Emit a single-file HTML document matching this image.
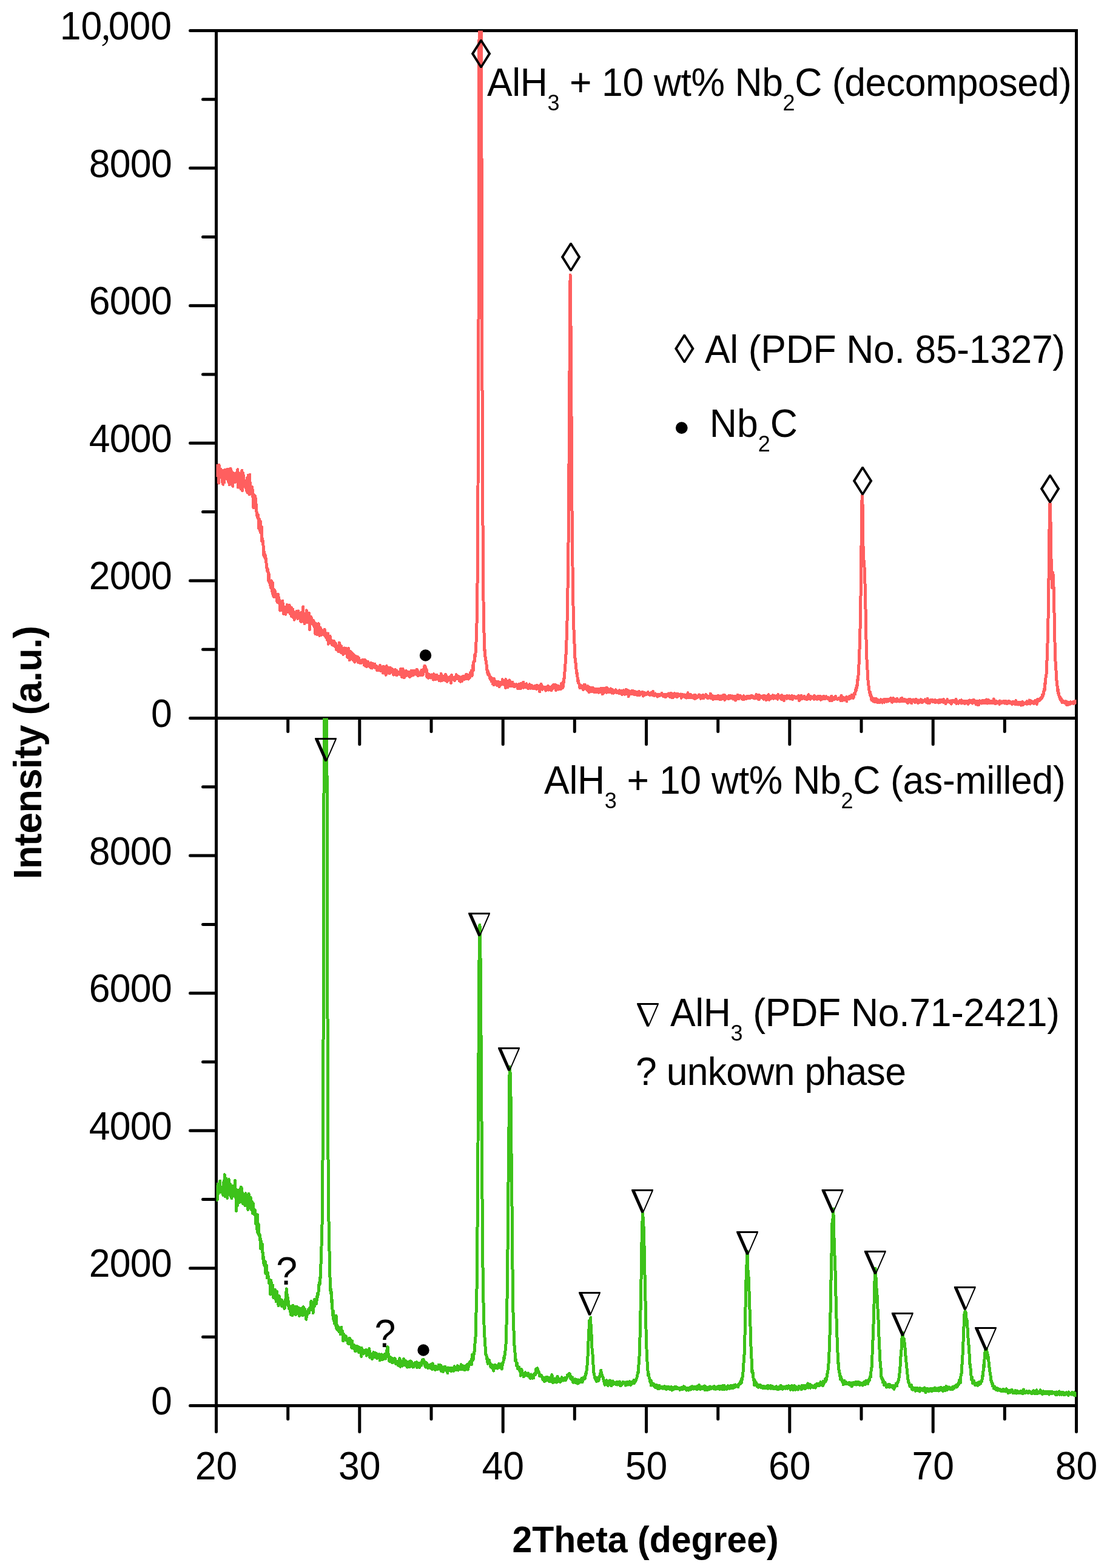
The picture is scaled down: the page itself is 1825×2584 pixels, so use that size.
<!DOCTYPE html>
<html><head><meta charset="utf-8"><title>XRD patterns</title>
<style>html,body{margin:0;padding:0;background:#fff;}svg{display:block;}</style>
</head><body>
<svg width="1825" height="2584" viewBox="0 0 1825 2584">
<defs>
<clipPath id="cT"><rect x="356.5" y="50.5" width="1418.0" height="1133.0"/></clipPath>
<clipPath id="cB"><rect x="356.5" y="1183.5" width="1418.0" height="1133.0"/></clipPath>
</defs>
<rect width="1825" height="2584" fill="#fff"/>
<rect x="356.5" y="50.5" width="1418.0" height="2266.0" fill="none" stroke="#000" stroke-width="5"/><line x1="356.5" y1="1183.5" x2="1774.5" y2="1183.5" stroke="#000" stroke-width="5"/><path d="M356.5,1183.5H313.5M356.5,1070.2H334.5M356.5,956.9H313.5M356.5,843.6H334.5M356.5,730.3H313.5M356.5,617.0H334.5M356.5,503.7H313.5M356.5,390.4H334.5M356.5,277.1H313.5M356.5,163.8H334.5M356.5,50.5H313.5M356.5,2316.5H313.5M356.5,2203.2H334.5M356.5,2089.9H313.5M356.5,1976.6H334.5M356.5,1863.3H313.5M356.5,1750.0H334.5M356.5,1636.7H313.5M356.5,1523.4H334.5M356.5,1410.1H313.5M356.5,1296.8H334.5M356.5,1183.5H313.5M474.7,1183.5V1205.5M592.8,1183.5V1226.5M711.0,1183.5V1205.5M829.2,1183.5V1226.5M947.3,1183.5V1205.5M1065.5,1183.5V1226.5M1183.7,1183.5V1205.5M1301.8,1183.5V1226.5M1420.0,1183.5V1205.5M1538.2,1183.5V1226.5M1656.3,1183.5V1205.5M356.5,2316.5V2359.5M474.7,2316.5V2338.5M592.8,2316.5V2359.5M711.0,2316.5V2338.5M829.2,2316.5V2359.5M947.3,2316.5V2338.5M1065.5,2316.5V2359.5M1183.7,2316.5V2338.5M1301.8,2316.5V2359.5M1420.0,2316.5V2338.5M1538.2,2316.5V2359.5M1656.3,2316.5V2338.5M1774.5,2316.5V2359.5" stroke="#000" stroke-width="5" stroke-linecap="round" fill="none"/>
<g font-family="Liberation Sans, Arial, sans-serif" font-size="62.5" fill="#000">
<text x="283" y="1198.0" text-anchor="end" letter-spacing="-0.7" transform="matrix(1 0 0 1.03 0 -35.94)">0</text><text x="283" y="2331.0" text-anchor="end" letter-spacing="-0.7" transform="matrix(1 0 0 1.03 0 -69.93)">0</text><text x="283" y="971.4" text-anchor="end" letter-spacing="-0.7" transform="matrix(1 0 0 1.03 0 -29.14)">2000</text><text x="283" y="2104.4" text-anchor="end" letter-spacing="-0.7" transform="matrix(1 0 0 1.03 0 -63.13)">2000</text><text x="283" y="744.8" text-anchor="end" letter-spacing="-0.7" transform="matrix(1 0 0 1.03 0 -22.34)">4000</text><text x="283" y="1877.8" text-anchor="end" letter-spacing="-0.7" transform="matrix(1 0 0 1.03 0 -56.33)">4000</text><text x="283" y="518.2" text-anchor="end" letter-spacing="-0.7" transform="matrix(1 0 0 1.03 0 -15.55)">6000</text><text x="283" y="1651.2" text-anchor="end" letter-spacing="-0.7" transform="matrix(1 0 0 1.03 0 -49.54)">6000</text><text x="283" y="291.6" text-anchor="end" letter-spacing="-0.7" transform="matrix(1 0 0 1.03 0 -8.75)">8000</text><text x="283" y="1424.6" text-anchor="end" letter-spacing="-0.7" transform="matrix(1 0 0 1.03 0 -42.74)">8000</text><text x="283" y="65.0" text-anchor="end" transform="matrix(1 0 0 1.03 0 -1.95)">10<tspan font-family="Noto Serif CJK SC" dx="-4">,</tspan><tspan dx="-6">000</tspan></text><text x="356.5" y="2438.5" text-anchor="middle" transform="matrix(1 0 0 1.03 0 -73.16)">20</text><text x="592.8" y="2438.5" text-anchor="middle" transform="matrix(1 0 0 1.03 0 -73.16)">30</text><text x="829.2" y="2438.5" text-anchor="middle" transform="matrix(1 0 0 1.03 0 -73.16)">40</text><text x="1065.5" y="2438.5" text-anchor="middle" transform="matrix(1 0 0 1.03 0 -73.16)">50</text><text x="1301.8" y="2438.5" text-anchor="middle" transform="matrix(1 0 0 1.03 0 -73.16)">60</text><text x="1538.2" y="2438.5" text-anchor="middle" transform="matrix(1 0 0 1.03 0 -73.16)">70</text><text x="1774.5" y="2438.5" text-anchor="middle" transform="matrix(1 0 0 1.03 0 -73.16)">80</text>
</g>
<polyline shape-rendering="crispEdges" clip-path="url(#cT)" points="356.5,778.8 357.0,767.2 357.4,768.4 357.9,783.8 358.4,782.1 358.9,784.2 359.3,774.6 359.8,780.2 360.3,773.2 360.8,796.2 361.2,766.2 361.7,781.0 362.2,774.2 362.6,781.5 363.1,783.8 363.6,776.5 364.1,773.4 364.5,782.5 365.0,782.2 365.5,774.9 366.0,788.7 366.4,794.5 366.9,777.8 367.4,787.2 367.8,798.3 368.3,788.7 368.8,785.7 369.3,792.2 369.7,795.0 370.2,781.6 370.7,774.2 371.2,784.2 371.6,788.8 372.1,779.0 372.6,776.1 373.0,785.2 373.5,777.9 374.0,773.6 374.5,784.7 374.9,790.1 375.4,780.0 375.9,781.0 376.4,773.6 376.8,794.6 377.3,789.3 377.8,791.0 378.2,799.0 378.7,782.9 379.2,779.5 379.7,790.8 380.1,772.4 380.6,777.5 381.1,779.4 381.6,781.6 382.0,776.9 382.5,797.1 383.0,780.3 383.4,780.6 383.9,801.4 384.4,783.2 384.9,788.6 385.3,779.8 385.8,790.6 386.3,787.1 386.8,784.2 387.2,795.0 387.7,782.3 388.2,788.6 388.6,783.6 389.1,792.6 389.6,778.8 390.1,783.2 390.5,790.2 391.0,783.4 391.5,778.1 391.9,773.7 392.4,803.1 392.9,782.0 393.4,785.9 393.8,791.0 394.3,799.1 394.8,779.8 395.3,801.8 395.7,786.2 396.2,780.1 396.7,805.4 397.1,794.5 397.6,803.4 398.1,790.2 398.6,779.5 399.0,775.3 399.5,808.4 400.0,798.2 400.5,787.4 400.9,780.1 401.4,790.4 401.9,800.6 402.3,791.9 402.8,794.8 403.3,796.7 403.8,801.5 404.2,792.2 404.7,793.2 405.2,797.0 405.7,798.5 406.1,808.1 406.6,801.7 407.1,787.8 407.5,800.3 408.0,811.5 408.5,788.4 409.0,795.9 409.4,783.0 409.9,801.0 410.4,806.1 410.9,815.0 411.3,792.1 411.8,782.2 412.3,811.5 412.7,810.8 413.2,801.1 413.7,814.0 414.2,810.4 414.6,812.1 415.1,808.8 415.6,802.6 416.1,813.0 416.5,807.0 417.0,819.6 417.5,814.9 417.9,836.7 418.4,832.5 418.9,815.5 419.4,828.3 419.8,820.2 420.3,822.1 420.8,817.4 421.3,823.3 421.7,823.6 422.2,834.7 422.7,841.5 423.1,844.0 423.6,844.4 424.1,851.9 424.6,849.8 425.0,848.8 425.5,848.6 426.0,855.7 426.5,870.5 426.9,858.9 427.4,859.3 427.9,855.5 428.3,862.1 428.8,874.0 429.3,877.4 429.8,860.0 430.2,872.2 430.7,867.3 431.2,868.1 431.7,892.3 432.1,886.5 432.6,888.8 433.1,890.9 433.5,893.8 434.0,898.9 434.5,901.9 435.0,916.2 435.4,909.6 435.9,916.3 436.4,913.0 436.9,919.7 437.3,915.1 437.8,916.5 438.3,922.6 438.7,925.2 439.2,929.3 439.7,935.4 440.2,936.2 440.6,940.9 441.1,937.9 441.6,942.9 442.1,942.0 442.5,956.3 443.0,944.9 443.5,957.2 443.9,958.9 444.4,957.5 444.9,961.4 445.4,957.8 445.8,964.3 446.3,968.5 446.8,968.4 447.3,956.8 447.7,965.5 448.2,973.9 448.7,968.2 449.1,978.5 449.6,960.3 450.1,980.7 450.6,970.4 451.0,971.2 451.5,983.8 452.0,974.9 452.5,972.0 452.9,976.0 453.4,978.1 453.9,975.2 454.3,980.5 454.8,980.3 455.3,983.7 455.8,980.3 456.2,989.8 456.7,981.0 457.2,989.0 457.7,993.0 458.1,985.7 458.6,979.2 459.1,984.0 459.5,992.9 460.0,987.0 460.5,994.1 461.0,993.0 461.4,992.6 461.9,1006.2 462.4,993.4 462.8,1000.6 463.3,999.5 463.8,1004.3 464.3,1005.1 464.7,1002.7 465.2,994.0 465.7,990.2 466.2,999.8 466.6,994.6 467.1,1002.4 467.6,1011.6 468.0,1001.3 468.5,1000.3 469.0,1005.4 469.5,1002.0 469.9,1000.9 470.4,1008.7 470.9,1012.2 471.4,1005.9 471.8,1006.1 472.3,1007.1 472.8,1000.3 473.2,996.8 473.7,1008.1 474.2,1002.6 474.7,1001.5 475.1,1003.0 475.6,1001.5 476.1,1009.1 476.6,1003.5 477.0,997.2 477.5,1003.7 478.0,1011.2 478.4,1005.2 478.9,1002.0 479.4,1006.9 479.9,1011.9 480.3,1001.3 480.8,1015.8 481.3,1007.1 481.8,1010.0 482.2,1016.2 482.7,1004.2 483.2,1008.9 483.6,1016.8 484.1,1008.0 484.6,1013.5 485.1,1021.2 485.5,1015.3 486.0,1010.7 486.5,1009.1 487.0,1011.7 487.4,1012.5 487.9,1010.6 488.4,1014.2 488.8,1007.5 489.3,1012.8 489.8,1012.3 490.3,1011.3 490.7,1019.5 491.2,1017.9 491.7,1006.9 492.2,1013.1 492.6,1016.3 493.1,1013.4 493.6,1017.7 494.0,1014.1 494.5,1019.0 495.0,1014.5 495.5,1023.9 495.9,1009.6 496.4,1019.0 496.9,1024.5 497.4,1017.9 497.8,1018.8 498.3,1016.4 498.8,1023.0 499.2,1015.6 499.7,999.8 500.2,1024.3 500.7,1016.5 501.1,1019.8 501.6,1017.6 502.1,1027.6 502.6,1024.5 503.0,1016.8 503.5,1019.4 504.0,1011.4 504.4,1023.1 504.9,1019.1 505.4,1005.9 505.9,1024.2 506.3,1025.2 506.8,1021.3 507.3,1021.7 507.8,1017.7 508.2,1021.6 508.7,1026.2 509.2,1021.9 509.6,1010.6 510.1,1017.5 510.6,1037.4 511.1,1025.1 511.5,1029.0 512.0,1022.2 512.5,1026.3 513.0,1016.6 513.4,1021.8 513.9,1022.4 514.4,1026.1 514.8,1027.5 515.3,1026.1 515.8,1022.0 516.3,1025.9 516.7,1030.5 517.2,1023.2 517.7,1028.8 518.2,1030.4 518.6,1034.2 519.1,1033.5 519.6,1034.3 520.0,1044.7 520.5,1027.4 521.0,1029.9 521.5,1033.9 521.9,1028.5 522.4,1031.7 522.9,1032.5 523.4,1046.0 523.8,1036.1 524.3,1033.0 524.8,1028.5 525.2,1027.8 525.7,1030.1 526.2,1042.4 526.7,1047.5 527.1,1035.3 527.6,1038.2 528.1,1034.4 528.6,1039.7 529.0,1038.6 529.5,1046.7 530.0,1038.4 530.4,1042.8 530.9,1039.6 531.4,1039.6 531.9,1042.5 532.3,1041.0 532.8,1042.9 533.3,1039.9 533.7,1041.4 534.2,1046.5 534.7,1047.1 535.2,1037.2 535.6,1045.8 536.1,1041.4 536.6,1044.4 537.1,1049.0 537.5,1050.3 538.0,1046.9 538.5,1046.8 538.9,1045.8 539.4,1054.5 539.9,1052.1 540.4,1050.5 540.8,1043.8 541.3,1061.4 541.8,1050.0 542.3,1054.8 542.7,1051.3 543.2,1055.7 543.7,1052.7 544.1,1048.3 544.6,1054.0 545.1,1054.3 545.6,1055.1 546.0,1060.4 546.5,1055.6 547.0,1059.3 547.5,1062.4 547.9,1059.8 548.4,1061.1 548.9,1057.7 549.3,1061.4 549.8,1063.8 550.3,1056.3 550.8,1058.5 551.2,1057.8 551.7,1060.8 552.2,1063.9 552.7,1065.5 553.1,1065.2 553.6,1060.6 554.1,1064.2 554.5,1070.9 555.0,1065.4 555.5,1071.2 556.0,1065.2 556.4,1070.9 556.9,1071.4 557.4,1066.2 557.9,1067.3 558.3,1073.8 558.8,1064.7 559.3,1059.4 559.7,1074.0 560.2,1061.4 560.7,1071.4 561.2,1071.0 561.6,1070.0 562.1,1075.2 562.6,1064.9 563.1,1068.3 563.5,1073.4 564.0,1071.9 564.5,1076.9 564.9,1072.7 565.4,1068.1 565.9,1078.5 566.4,1073.9 566.8,1072.0 567.3,1068.9 567.8,1068.0 568.3,1075.2 568.7,1076.5 569.2,1072.3 569.7,1075.7 570.1,1075.8 570.6,1070.8 571.1,1068.8 571.6,1074.5 572.0,1076.5 572.5,1073.9 573.0,1083.4 573.5,1076.7 573.9,1080.9 574.4,1068.4 574.9,1074.9 575.3,1077.3 575.8,1078.8 576.3,1087.7 576.8,1076.1 577.2,1073.1 577.7,1082.0 578.2,1077.1 578.7,1077.3 579.1,1085.8 579.6,1077.1 580.1,1075.9 580.5,1080.3 581.0,1081.6 581.5,1078.9 582.0,1087.5 582.4,1082.0 582.9,1078.8 583.4,1087.3 583.9,1079.6 584.3,1085.0 584.8,1091.2 585.3,1084.5 585.7,1087.8 586.2,1083.5 586.7,1089.1 587.2,1081.6 587.6,1088.2 588.1,1084.6 588.6,1088.2 589.1,1087.6 589.5,1082.6 590.0,1086.3 590.5,1088.7 590.9,1092.0 591.4,1083.9 591.9,1085.7 592.4,1089.7 592.8,1088.0 593.3,1092.6 593.8,1092.8 594.3,1092.4 594.7,1088.6 595.2,1089.0 595.7,1092.7 596.1,1087.9 596.6,1087.9 597.1,1090.1 597.6,1087.4 598.0,1092.0 598.5,1091.6 599.0,1089.8 599.5,1091.7 599.9,1089.1 600.4,1096.2 600.9,1087.3 601.3,1094.9 601.8,1093.0 602.3,1097.3 602.8,1090.8 603.2,1088.8 603.7,1089.6 604.2,1090.6 604.6,1098.7 605.1,1096.3 605.6,1095.4 606.1,1097.1 606.5,1090.5 607.0,1093.8 607.5,1094.7 608.0,1093.2 608.4,1098.1 608.9,1098.1 609.4,1098.2 609.8,1093.8 610.3,1094.5 610.8,1093.9 611.3,1092.5 611.7,1100.6 612.2,1098.2 612.7,1096.0 613.2,1101.1 613.6,1098.6 614.1,1093.8 614.6,1093.6 615.0,1093.9 615.5,1097.4 616.0,1098.4 616.5,1094.4 616.9,1099.3 617.4,1097.2 617.9,1094.2 618.4,1099.8 618.8,1100.7 619.3,1099.0 619.8,1097.2 620.2,1097.8 620.7,1099.0 621.2,1097.9 621.7,1104.9 622.1,1102.7 622.6,1099.7 623.1,1103.3 623.6,1104.8 624.0,1104.5 624.5,1103.8 625.0,1101.6 625.4,1104.5 625.9,1100.7 626.4,1096.3 626.9,1102.2 627.3,1097.9 627.8,1101.2 628.3,1105.7 628.8,1103.1 629.2,1105.5 629.7,1100.2 630.2,1106.3 630.6,1098.7 631.1,1101.2 631.6,1109.3 632.1,1100.8 632.5,1098.5 633.0,1105.9 633.5,1100.5 634.0,1109.2 634.4,1103.0 634.9,1109.0 635.4,1102.6 635.8,1109.6 636.3,1112.3 636.8,1103.2 637.3,1097.5 637.7,1106.5 638.2,1102.2 638.7,1104.6 639.2,1106.0 639.6,1103.3 640.1,1100.3 640.6,1109.1 641.0,1103.8 641.5,1104.6 642.0,1110.0 642.5,1101.0 642.9,1100.1 643.4,1109.0 643.9,1101.0 644.4,1106.2 644.8,1107.0 645.3,1102.1 645.8,1106.0 646.2,1105.9 646.7,1102.4 647.2,1103.2 647.7,1104.5 648.1,1111.5 648.6,1112.1 649.1,1104.2 649.6,1110.4 650.0,1107.4 650.5,1111.1 651.0,1108.6 651.4,1111.9 651.9,1103.5 652.4,1111.4 652.9,1108.9 653.3,1109.2 653.8,1105.2 654.3,1113.0 654.8,1109.0 655.2,1109.6 655.7,1107.5 656.2,1107.7 656.6,1110.5 657.1,1108.4 657.6,1110.3 658.1,1107.8 658.5,1109.5 659.0,1111.1 659.5,1109.3 660.0,1108.2 660.4,1102.6 660.9,1110.7 661.4,1108.4 661.8,1105.0 662.3,1115.4 662.8,1114.5 663.3,1112.9 663.7,1109.7 664.2,1102.3 664.7,1108.3 665.2,1105.9 665.6,1110.1 666.1,1116.7 666.6,1116.3 667.0,1106.6 667.5,1109.0 668.0,1113.4 668.5,1106.3 668.9,1114.1 669.4,1106.3 669.9,1105.4 670.4,1111.9 670.8,1112.9 671.3,1107.2 671.8,1112.9 672.2,1107.2 672.7,1113.2 673.2,1107.4 673.7,1109.5 674.1,1111.1 674.6,1112.4 675.1,1109.1 675.5,1115.4 676.0,1110.7 676.5,1111.1 677.0,1108.0 677.4,1113.6 677.9,1105.0 678.4,1110.9 678.9,1113.3 679.3,1106.0 679.8,1105.2 680.3,1110.6 680.7,1112.7 681.2,1110.1 681.7,1112.2 682.2,1111.1 682.6,1105.7 683.1,1109.1 683.6,1109.8 684.1,1109.3 684.5,1110.5 685.0,1107.9 685.5,1107.8 685.9,1111.4 686.4,1110.1 686.9,1103.4 687.4,1109.2 687.8,1111.0 688.3,1104.5 688.8,1110.4 689.3,1113.7 689.7,1108.5 690.2,1113.1 690.7,1111.9 691.1,1109.6 691.6,1110.9 692.1,1112.7 692.6,1112.1 693.0,1112.2 693.5,1107.1 694.0,1112.6 694.5,1112.1 694.9,1104.5 695.4,1111.9 695.9,1105.7 696.3,1105.7 696.8,1109.4 697.3,1112.3 697.8,1105.7 698.2,1103.8 698.7,1101.6 699.2,1103.0 699.7,1098.5 700.1,1097.4 700.6,1105.1 701.1,1098.1 701.5,1103.3 702.0,1107.0 702.5,1107.8 703.0,1102.7 703.4,1106.7 703.9,1115.8 704.4,1111.2 704.9,1112.5 705.3,1113.0 705.8,1114.3 706.3,1117.3 706.7,1110.9 707.2,1116.2 707.7,1114.7 708.2,1115.5 708.6,1116.0 709.1,1112.0 709.6,1113.2 710.1,1116.2 710.5,1117.1 711.0,1115.9 711.5,1112.0 711.9,1114.4 712.4,1114.2 712.9,1115.8 713.4,1115.7 713.8,1114.4 714.3,1120.2 714.8,1110.7 715.3,1117.4 715.7,1116.9 716.2,1111.6 716.7,1114.8 717.1,1115.3 717.6,1117.1 718.1,1119.9 718.6,1115.1 719.0,1112.4 719.5,1118.2 720.0,1112.1 720.5,1119.0 720.9,1118.0 721.4,1114.6 721.9,1116.1 722.3,1114.2 722.8,1118.2 723.3,1119.1 723.8,1121.4 724.2,1119.6 724.7,1119.3 725.2,1120.4 725.7,1115.7 726.1,1118.4 726.6,1122.1 727.1,1109.9 727.5,1119.0 728.0,1120.2 728.5,1113.4 729.0,1113.7 729.4,1120.1 729.9,1121.0 730.4,1119.8 730.9,1114.0 731.3,1118.0 731.8,1119.4 732.3,1117.3 732.7,1114.0 733.2,1121.1 733.7,1118.4 734.2,1121.2 734.6,1111.6 735.1,1112.6 735.6,1115.0 736.1,1118.0 736.5,1115.9 737.0,1123.4 737.5,1117.0 737.9,1121.4 738.4,1121.5 738.9,1119.8 739.4,1118.9 739.8,1116.4 740.3,1116.1 740.8,1117.4 741.3,1120.7 741.7,1116.3 742.2,1118.5 742.7,1115.1 743.1,1120.7 743.6,1125.8 744.1,1119.6 744.6,1112.6 745.0,1117.1 745.5,1119.0 746.0,1116.1 746.4,1117.1 746.9,1117.3 747.4,1119.9 747.9,1118.4 748.3,1118.1 748.8,1120.3 749.3,1121.6 749.8,1118.3 750.2,1116.1 750.7,1117.0 751.2,1117.4 751.6,1117.4 752.1,1111.8 752.6,1118.0 753.1,1115.9 753.5,1113.5 754.0,1118.6 754.5,1118.0 755.0,1116.0 755.4,1114.2 755.9,1117.9 756.4,1117.8 756.8,1118.5 757.3,1121.9 757.8,1115.7 758.3,1119.3 758.7,1123.3 759.2,1119.0 759.7,1123.2 760.2,1121.2 760.6,1118.5 761.1,1120.9 761.6,1115.5 762.0,1122.3 762.5,1117.6 763.0,1116.7 763.5,1114.2 763.9,1115.6 764.4,1117.3 764.9,1117.7 765.4,1118.0 765.8,1114.6 766.3,1119.4 766.8,1116.1 767.2,1117.6 767.7,1116.6 768.2,1117.8 768.7,1111.1 769.1,1118.6 769.6,1115.9 770.1,1115.6 770.6,1114.5 771.0,1114.7 771.5,1114.5 772.0,1112.6 772.4,1119.2 772.9,1114.7 773.4,1117.8 773.9,1113.2 774.3,1116.8 774.8,1115.6 775.3,1112.5 775.8,1107.7 776.2,1109.4 776.7,1109.5 777.2,1105.4 777.6,1111.4 778.1,1113.8 778.6,1107.7 779.1,1106.0 779.5,1099.9 780.0,1095.5 780.5,1104.5 781.0,1090.3 781.4,1090.8 781.9,1090.5 782.4,1089.0 782.8,1078.3 783.3,1082.3 783.8,1079.5 784.3,1071.2 784.7,1069.7 785.2,1052.4 785.7,1041.2 786.2,1019.3 786.6,989.8 787.1,954.9 787.6,875.3 788.0,803.6 788.5,663.4 789.0,534.4 789.5,318.2 789.9,121.0 790.4,-117.3 790.9,-306.6 791.4,-418.7 791.8,-495.8 792.3,-468.1 792.8,-332.7 793.2,-88.3 793.7,143.4 794.2,337.0 794.7,518.5 795.1,680.2 795.6,803.2 796.1,880.3 796.6,944.2 797.0,989.7 797.5,1027.6 798.0,1042.6 798.4,1057.6 798.9,1072.5 799.4,1071.3 799.9,1080.4 800.3,1087.5 800.8,1085.3 801.3,1091.3 801.8,1094.3 802.2,1096.1 802.7,1100.1 803.2,1108.5 803.6,1107.7 804.1,1105.4 804.6,1112.2 805.1,1111.3 805.5,1111.6 806.0,1109.9 806.5,1111.4 807.0,1113.6 807.4,1117.5 807.9,1115.3 808.4,1117.2 808.8,1119.8 809.3,1116.4 809.8,1119.3 810.3,1123.1 810.7,1118.3 811.2,1122.7 811.7,1120.9 812.2,1126.7 812.6,1123.1 813.1,1125.7 813.6,1126.0 814.0,1128.6 814.5,1118.5 815.0,1124.5 815.5,1123.6 815.9,1121.6 816.4,1124.8 816.9,1123.3 817.3,1128.1 817.8,1124.3 818.3,1125.9 818.8,1123.7 819.2,1124.6 819.7,1128.6 820.2,1129.8 820.7,1127.7 821.1,1123.4 821.6,1124.2 822.1,1124.3 822.5,1130.4 823.0,1132.0 823.5,1126.9 824.0,1126.2 824.4,1126.9 824.9,1124.5 825.4,1125.8 825.9,1128.3 826.3,1127.5 826.8,1124.9 827.3,1125.1 827.7,1125.4 828.2,1119.6 828.7,1125.9 829.2,1124.9 829.6,1127.6 830.1,1126.0 830.6,1123.8 831.1,1123.6 831.5,1125.5 832.0,1124.1 832.5,1125.0 832.9,1129.9 833.4,1133.4 833.9,1119.5 834.4,1123.4 834.8,1125.7 835.3,1130.0 835.8,1129.0 836.3,1122.5 836.7,1133.0 837.2,1126.9 837.7,1124.1 838.1,1126.0 838.6,1124.6 839.1,1126.9 839.6,1120.8 840.0,1129.4 840.5,1130.3 841.0,1126.4 841.5,1123.6 841.9,1127.4 842.4,1124.8 842.9,1128.8 843.3,1130.5 843.8,1124.3 844.3,1124.0 844.8,1124.2 845.2,1129.0 845.7,1130.9 846.2,1131.0 846.7,1128.8 847.1,1127.0 847.6,1127.3 848.1,1132.0 848.5,1128.2 849.0,1128.7 849.5,1128.7 850.0,1129.0 850.4,1129.5 850.9,1127.7 851.4,1129.0 851.9,1128.8 852.3,1131.1 852.8,1128.6 853.3,1129.9 853.7,1134.8 854.2,1128.7 854.7,1130.5 855.2,1127.8 855.6,1130.5 856.1,1130.4 856.6,1129.7 857.1,1130.3 857.5,1131.4 858.0,1134.7 858.5,1126.2 858.9,1134.3 859.4,1131.4 859.9,1129.1 860.4,1129.8 860.8,1129.4 861.3,1129.0 861.8,1127.9 862.3,1130.2 862.7,1124.1 863.2,1133.3 863.7,1130.5 864.1,1131.9 864.6,1132.3 865.1,1130.4 865.6,1127.7 866.0,1132.9 866.5,1132.9 867.0,1129.6 867.5,1130.0 867.9,1126.8 868.4,1129.0 868.9,1130.9 869.3,1132.2 869.8,1131.0 870.3,1132.0 870.8,1134.8 871.2,1131.6 871.7,1132.1 872.2,1132.2 872.7,1132.7 873.1,1127.8 873.6,1130.2 874.1,1129.7 874.5,1133.3 875.0,1134.3 875.5,1132.6 876.0,1131.4 876.4,1132.8 876.9,1132.5 877.4,1129.8 877.9,1131.4 878.3,1134.4 878.8,1133.1 879.3,1133.7 879.7,1131.8 880.2,1134.9 880.7,1132.7 881.2,1130.7 881.6,1132.3 882.1,1134.5 882.6,1133.8 883.1,1132.1 883.5,1131.3 884.0,1130.5 884.5,1132.8 884.9,1135.5 885.4,1129.2 885.9,1131.9 886.4,1131.6 886.8,1131.9 887.3,1135.0 887.8,1133.4 888.2,1132.1 888.7,1130.4 889.2,1132.6 889.7,1140.0 890.1,1133.4 890.6,1132.1 891.1,1130.0 891.6,1131.4 892.0,1127.4 892.5,1129.9 893.0,1130.1 893.4,1131.1 893.9,1136.4 894.4,1131.4 894.9,1132.0 895.3,1134.6 895.8,1132.1 896.3,1132.5 896.8,1134.6 897.2,1133.8 897.7,1134.2 898.2,1133.1 898.6,1134.6 899.1,1132.5 899.6,1138.1 900.1,1134.4 900.5,1137.6 901.0,1134.9 901.5,1132.6 902.0,1133.8 902.4,1134.1 902.9,1133.7 903.4,1130.3 903.8,1136.3 904.3,1131.8 904.8,1137.2 905.3,1134.9 905.7,1133.4 906.2,1135.7 906.7,1133.3 907.2,1132.1 907.6,1136.4 908.1,1133.8 908.6,1134.5 909.0,1138.0 909.5,1133.9 910.0,1135.3 910.5,1130.4 910.9,1135.3 911.4,1129.4 911.9,1134.4 912.4,1128.6 912.8,1131.7 913.3,1131.8 913.8,1130.8 914.2,1130.5 914.7,1129.1 915.2,1128.2 915.7,1132.8 916.1,1134.7 916.6,1137.8 917.1,1132.3 917.6,1129.5 918.0,1130.3 918.5,1130.9 919.0,1132.1 919.4,1132.9 919.9,1132.2 920.4,1130.9 920.9,1136.1 921.3,1130.7 921.8,1135.9 922.3,1133.1 922.8,1134.3 923.2,1133.8 923.7,1135.3 924.2,1135.5 924.6,1133.2 925.1,1135.0 925.6,1126.4 926.1,1132.6 926.5,1132.6 927.0,1131.5 927.5,1131.6 928.0,1133.5 928.4,1126.3 928.9,1122.7 929.4,1124.8 929.8,1117.7 930.3,1117.5 930.8,1110.0 931.3,1103.9 931.7,1097.9 932.2,1091.5 932.7,1088.0 933.2,1073.5 933.6,1068.2 934.1,1052.7 934.6,1036.2 935.0,1023.0 935.5,1006.5 936.0,969.4 936.5,946.9 936.9,905.0 937.4,856.6 937.9,778.9 938.4,715.3 938.8,658.1 939.3,548.0 939.8,472.4 940.2,453.1 940.7,504.8 941.2,555.0 941.7,627.3 942.1,703.5 942.6,784.1 943.1,854.3 943.6,890.8 944.0,932.9 944.5,977.3 945.0,998.0 945.4,1016.1 945.9,1034.9 946.4,1047.0 946.9,1057.9 947.3,1069.0 947.8,1079.9 948.3,1091.3 948.8,1090.6 949.2,1093.3 949.7,1096.2 950.2,1106.3 950.6,1109.7 951.1,1108.5 951.6,1111.2 952.1,1116.6 952.5,1117.6 953.0,1123.3 953.5,1121.4 954.0,1126.4 954.4,1126.0 954.9,1127.1 955.4,1128.9 955.8,1133.7 956.3,1131.4 956.8,1129.3 957.3,1130.8 957.7,1132.1 958.2,1130.5 958.7,1130.3 959.1,1130.2 959.6,1134.2 960.1,1132.5 960.6,1133.4 961.0,1134.8 961.5,1136.3 962.0,1133.1 962.5,1134.9 962.9,1128.0 963.4,1133.1 963.9,1133.4 964.3,1133.9 964.8,1128.7 965.3,1135.2 965.8,1133.6 966.2,1135.1 966.7,1133.8 967.2,1133.7 967.7,1131.4 968.1,1137.2 968.6,1134.2 969.1,1130.7 969.5,1135.7 970.0,1135.1 970.5,1136.8 971.0,1140.8 971.4,1135.3 971.9,1132.6 972.4,1136.3 972.9,1139.5 973.3,1134.9 973.8,1135.4 974.3,1133.5 974.7,1133.7 975.2,1136.4 975.7,1135.0 976.2,1139.9 976.6,1133.6 977.1,1135.7 977.6,1133.8 978.1,1133.9 978.5,1136.9 979.0,1136.7 979.5,1138.3 979.9,1141.0 980.4,1136.8 980.9,1136.2 981.4,1138.9 981.8,1135.1 982.3,1136.4 982.8,1135.7 983.3,1138.4 983.7,1140.6 984.2,1135.1 984.7,1135.5 985.1,1137.1 985.6,1137.8 986.1,1137.5 986.6,1137.2 987.0,1138.1 987.5,1141.3 988.0,1135.3 988.5,1140.3 988.9,1137.8 989.4,1137.7 989.9,1136.5 990.3,1140.6 990.8,1134.5 991.3,1135.7 991.8,1135.5 992.2,1134.4 992.7,1138.9 993.2,1143.9 993.7,1136.4 994.1,1134.3 994.6,1134.7 995.1,1138.4 995.5,1137.4 996.0,1136.6 996.5,1141.2 997.0,1138.8 997.4,1138.8 997.9,1134.1 998.4,1138.9 998.9,1134.2 999.3,1137.6 999.8,1141.3 1000.3,1133.0 1000.7,1139.9 1001.2,1136.5 1001.7,1134.3 1002.2,1139.1 1002.6,1140.7 1003.1,1135.9 1003.6,1138.0 1004.1,1140.8 1004.5,1140.6 1005.0,1139.1 1005.5,1136.3 1005.9,1139.0 1006.4,1137.1 1006.9,1135.0 1007.4,1135.9 1007.8,1135.6 1008.3,1136.1 1008.8,1142.1 1009.3,1136.2 1009.7,1138.1 1010.2,1139.2 1010.7,1141.2 1011.1,1142.3 1011.6,1141.4 1012.1,1139.1 1012.6,1141.6 1013.0,1140.9 1013.5,1140.5 1014.0,1137.9 1014.5,1140.0 1014.9,1139.7 1015.4,1136.7 1015.9,1140.2 1016.3,1138.3 1016.8,1141.8 1017.3,1139.0 1017.8,1139.4 1018.2,1139.4 1018.7,1140.8 1019.2,1142.0 1019.7,1140.5 1020.1,1140.9 1020.6,1137.8 1021.1,1138.1 1021.5,1142.6 1022.0,1138.8 1022.5,1141.2 1023.0,1139.3 1023.4,1141.3 1023.9,1143.3 1024.4,1138.3 1024.9,1139.5 1025.3,1143.0 1025.8,1144.4 1026.3,1141.6 1026.7,1143.0 1027.2,1141.4 1027.7,1139.4 1028.2,1137.7 1028.6,1141.5 1029.1,1138.0 1029.6,1138.5 1030.0,1141.8 1030.5,1144.3 1031.0,1139.2 1031.5,1139.8 1031.9,1136.3 1032.4,1138.2 1032.9,1139.6 1033.4,1137.8 1033.8,1143.4 1034.3,1140.9 1034.8,1141.9 1035.2,1137.8 1035.7,1140.3 1036.2,1147.7 1036.7,1138.7 1037.1,1143.4 1037.6,1140.0 1038.1,1142.6 1038.6,1141.2 1039.0,1140.4 1039.5,1141.4 1040.0,1143.7 1040.4,1139.0 1040.9,1141.1 1041.4,1142.0 1041.9,1140.5 1042.3,1143.1 1042.8,1138.3 1043.3,1141.6 1043.8,1141.4 1044.2,1141.5 1044.7,1144.0 1045.2,1144.6 1045.6,1141.9 1046.1,1141.6 1046.6,1139.7 1047.1,1141.5 1047.5,1144.6 1048.0,1141.5 1048.5,1140.9 1049.0,1140.6 1049.4,1142.0 1049.9,1145.1 1050.4,1140.4 1050.8,1144.2 1051.3,1141.7 1051.8,1146.0 1052.3,1141.4 1052.7,1144.5 1053.2,1140.8 1053.7,1139.5 1054.2,1140.8 1054.6,1145.4 1055.1,1145.0 1055.6,1144.9 1056.0,1141.9 1056.5,1142.6 1057.0,1143.0 1057.5,1142.7 1057.9,1142.2 1058.4,1142.1 1058.9,1140.1 1059.4,1143.6 1059.8,1143.1 1060.3,1147.1 1060.8,1146.1 1061.2,1144.9 1061.7,1145.9 1062.2,1143.2 1062.7,1141.6 1063.1,1144.5 1063.6,1144.6 1064.1,1144.7 1064.6,1143.5 1065.0,1144.8 1065.5,1143.0 1066.0,1143.2 1066.4,1143.2 1066.9,1142.4 1067.4,1143.8 1067.9,1143.6 1068.3,1140.5 1068.8,1144.1 1069.3,1142.4 1069.8,1143.9 1070.2,1144.9 1070.7,1145.0 1071.2,1145.7 1071.6,1144.1 1072.1,1145.3 1072.6,1145.0 1073.1,1141.8 1073.5,1144.5 1074.0,1142.0 1074.5,1143.8 1075.0,1142.6 1075.4,1145.5 1075.9,1144.1 1076.4,1139.3 1076.8,1142.8 1077.3,1142.5 1077.8,1144.0 1078.3,1142.8 1078.7,1146.7 1079.2,1146.2 1079.7,1143.7 1080.2,1143.0 1080.6,1145.4 1081.1,1145.0 1081.6,1145.3 1082.0,1145.0 1082.5,1147.0 1083.0,1147.5 1083.5,1144.9 1083.9,1148.1 1084.4,1146.7 1084.9,1146.1 1085.4,1146.9 1085.8,1144.4 1086.3,1145.7 1086.8,1145.1 1087.2,1146.9 1087.7,1146.4 1088.2,1144.0 1088.7,1144.3 1089.1,1145.9 1089.6,1144.4 1090.1,1144.7 1090.6,1144.8 1091.0,1142.1 1091.5,1145.9 1092.0,1144.4 1092.4,1144.4 1092.9,1145.7 1093.4,1147.5 1093.9,1144.0 1094.3,1144.8 1094.8,1145.2 1095.3,1145.3 1095.8,1145.3 1096.2,1147.1 1096.7,1144.9 1097.2,1148.9 1097.6,1145.5 1098.1,1148.4 1098.6,1146.2 1099.1,1144.2 1099.5,1146.1 1100.0,1146.5 1100.5,1144.7 1100.9,1146.2 1101.4,1146.5 1101.9,1146.5 1102.4,1142.9 1102.8,1144.5 1103.3,1144.9 1103.8,1148.1 1104.3,1144.7 1104.7,1148.3 1105.2,1145.0 1105.7,1148.0 1106.1,1142.3 1106.6,1149.1 1107.1,1143.7 1107.6,1144.5 1108.0,1149.4 1108.5,1146.5 1109.0,1143.4 1109.5,1144.0 1109.9,1149.2 1110.4,1147.1 1110.9,1148.4 1111.3,1148.1 1111.8,1147.4 1112.3,1142.8 1112.8,1146.0 1113.2,1146.7 1113.7,1146.9 1114.2,1145.1 1114.7,1145.1 1115.1,1148.1 1115.6,1143.7 1116.1,1148.5 1116.5,1147.0 1117.0,1145.6 1117.5,1143.3 1118.0,1147.2 1118.4,1146.0 1118.9,1144.1 1119.4,1145.4 1119.9,1144.5 1120.3,1144.7 1120.8,1146.2 1121.3,1145.5 1121.7,1145.0 1122.2,1146.8 1122.7,1143.8 1123.2,1150.4 1123.6,1148.5 1124.1,1144.1 1124.6,1146.0 1125.1,1148.0 1125.5,1146.2 1126.0,1144.9 1126.5,1147.9 1126.9,1145.5 1127.4,1147.2 1127.9,1147.2 1128.4,1147.1 1128.8,1144.9 1129.3,1149.1 1129.8,1147.7 1130.3,1145.8 1130.7,1149.3 1131.2,1150.0 1131.7,1146.1 1132.1,1147.1 1132.6,1147.4 1133.1,1146.9 1133.6,1149.0 1134.0,1141.8 1134.5,1149.0 1135.0,1148.1 1135.5,1149.9 1135.9,1148.1 1136.4,1144.5 1136.9,1147.3 1137.3,1146.3 1137.8,1148.3 1138.3,1144.1 1138.8,1147.1 1139.2,1149.7 1139.7,1146.0 1140.2,1148.2 1140.7,1146.4 1141.1,1147.3 1141.6,1147.1 1142.1,1147.3 1142.5,1149.2 1143.0,1150.3 1143.5,1145.8 1144.0,1147.9 1144.4,1147.1 1144.9,1148.5 1145.4,1151.4 1145.9,1150.0 1146.3,1145.2 1146.8,1149.2 1147.3,1148.5 1147.7,1150.5 1148.2,1148.8 1148.7,1148.5 1149.2,1148.3 1149.6,1148.0 1150.1,1149.0 1150.6,1149.0 1151.1,1148.0 1151.5,1147.4 1152.0,1148.2 1152.5,1144.8 1152.9,1147.6 1153.4,1147.7 1153.9,1149.3 1154.4,1146.2 1154.8,1150.0 1155.3,1151.1 1155.8,1149.9 1156.3,1147.0 1156.7,1150.3 1157.2,1145.9 1157.7,1148.3 1158.1,1151.0 1158.6,1148.7 1159.1,1145.1 1159.6,1149.9 1160.0,1150.7 1160.5,1147.4 1161.0,1146.0 1161.5,1146.5 1161.9,1149.0 1162.4,1148.1 1162.9,1147.9 1163.3,1146.3 1163.8,1144.6 1164.3,1148.7 1164.8,1146.2 1165.2,1149.2 1165.7,1147.5 1166.2,1150.3 1166.7,1150.0 1167.1,1147.9 1167.6,1150.3 1168.1,1147.1 1168.5,1149.7 1169.0,1148.6 1169.5,1148.9 1170.0,1149.3 1170.4,1148.5 1170.9,1146.8 1171.4,1143.2 1171.8,1150.9 1172.3,1148.3 1172.8,1149.2 1173.3,1150.5 1173.7,1148.4 1174.2,1150.5 1174.7,1149.1 1175.2,1146.7 1175.6,1152.6 1176.1,1148.6 1176.6,1148.2 1177.0,1150.7 1177.5,1148.1 1178.0,1148.4 1178.5,1149.7 1178.9,1147.0 1179.4,1151.5 1179.9,1148.0 1180.4,1149.6 1180.8,1151.0 1181.3,1149.5 1181.8,1149.8 1182.2,1147.7 1182.7,1151.8 1183.2,1149.5 1183.7,1150.0 1184.1,1146.4 1184.6,1151.2 1185.1,1147.3 1185.6,1152.3 1186.0,1148.6 1186.5,1149.4 1187.0,1148.5 1187.4,1150.4 1187.9,1152.7 1188.4,1151.9 1188.9,1146.9 1189.3,1148.8 1189.8,1150.7 1190.3,1147.6 1190.8,1150.5 1191.2,1150.5 1191.7,1151.4 1192.2,1147.1 1192.6,1145.7 1193.1,1150.9 1193.6,1148.7 1194.1,1147.5 1194.5,1145.5 1195.0,1153.5 1195.5,1149.0 1196.0,1148.1 1196.4,1151.9 1196.9,1148.5 1197.4,1148.9 1197.8,1147.9 1198.3,1150.3 1198.8,1148.5 1199.3,1150.3 1199.7,1148.2 1200.2,1148.9 1200.7,1149.9 1201.2,1151.8 1201.6,1146.3 1202.1,1147.3 1202.6,1147.7 1203.0,1150.4 1203.5,1149.9 1204.0,1146.3 1204.5,1147.9 1204.9,1150.7 1205.4,1149.1 1205.9,1149.0 1206.4,1149.6 1206.8,1150.9 1207.3,1147.0 1207.8,1148.2 1208.2,1149.6 1208.7,1152.0 1209.2,1150.3 1209.7,1149.2 1210.1,1147.7 1210.6,1149.9 1211.1,1147.2 1211.6,1149.0 1212.0,1150.5 1212.5,1154.2 1213.0,1151.3 1213.4,1151.9 1213.9,1149.5 1214.4,1148.6 1214.9,1146.7 1215.3,1149.2 1215.8,1151.3 1216.3,1145.0 1216.8,1148.6 1217.2,1149.7 1217.7,1149.7 1218.2,1151.6 1218.6,1148.1 1219.1,1148.5 1219.6,1146.4 1220.1,1147.2 1220.5,1147.6 1221.0,1146.9 1221.5,1149.7 1222.0,1150.0 1222.4,1149.3 1222.9,1151.4 1223.4,1149.4 1223.8,1149.8 1224.3,1148.0 1224.8,1149.2 1225.3,1152.6 1225.7,1149.1 1226.2,1146.6 1226.7,1152.4 1227.2,1150.5 1227.6,1149.1 1228.1,1151.5 1228.6,1150.1 1229.0,1149.1 1229.5,1151.5 1230.0,1148.6 1230.5,1148.4 1230.9,1151.4 1231.4,1149.1 1231.9,1147.2 1232.4,1149.5 1232.8,1148.4 1233.3,1148.0 1233.8,1149.6 1234.2,1147.4 1234.7,1148.5 1235.2,1150.9 1235.7,1148.2 1236.1,1147.6 1236.6,1147.7 1237.1,1150.3 1237.6,1148.3 1238.0,1146.7 1238.5,1148.7 1239.0,1147.0 1239.4,1146.8 1239.9,1149.2 1240.4,1147.9 1240.9,1149.6 1241.3,1147.2 1241.8,1149.3 1242.3,1150.1 1242.7,1149.2 1243.2,1149.2 1243.7,1148.4 1244.2,1148.3 1244.6,1151.2 1245.1,1150.3 1245.6,1148.5 1246.1,1148.3 1246.5,1149.0 1247.0,1144.5 1247.5,1147.2 1247.9,1149.3 1248.4,1147.9 1248.9,1146.8 1249.4,1148.5 1249.8,1152.3 1250.3,1149.0 1250.8,1149.1 1251.3,1145.4 1251.7,1152.4 1252.2,1146.4 1252.7,1149.5 1253.1,1147.5 1253.6,1149.7 1254.1,1148.9 1254.6,1147.2 1255.0,1149.1 1255.5,1147.3 1256.0,1149.4 1256.5,1149.9 1256.9,1149.6 1257.4,1150.1 1257.9,1149.4 1258.3,1146.8 1258.8,1151.3 1259.3,1152.2 1259.8,1149.3 1260.2,1146.3 1260.7,1147.4 1261.2,1146.9 1261.7,1147.1 1262.1,1150.6 1262.6,1149.1 1263.1,1154.0 1263.5,1150.4 1264.0,1148.2 1264.5,1152.0 1265.0,1152.9 1265.4,1151.6 1265.9,1148.9 1266.4,1147.2 1266.9,1144.7 1267.3,1146.8 1267.8,1152.0 1268.3,1153.4 1268.7,1149.1 1269.2,1147.4 1269.7,1152.2 1270.2,1150.3 1270.6,1150.1 1271.1,1149.3 1271.6,1149.6 1272.1,1148.4 1272.5,1147.5 1273.0,1149.2 1273.5,1148.0 1273.9,1145.8 1274.4,1151.1 1274.9,1151.2 1275.4,1148.4 1275.8,1146.1 1276.3,1149.1 1276.8,1147.4 1277.3,1149.9 1277.7,1147.7 1278.2,1150.5 1278.7,1148.2 1279.1,1148.7 1279.6,1148.7 1280.1,1146.9 1280.6,1147.5 1281.0,1150.4 1281.5,1147.8 1282.0,1152.4 1282.5,1147.6 1282.9,1144.5 1283.4,1148.4 1283.9,1148.5 1284.3,1149.2 1284.8,1147.9 1285.3,1150.1 1285.8,1148.2 1286.2,1149.8 1286.7,1150.1 1287.2,1149.1 1287.7,1149.4 1288.1,1152.4 1288.6,1145.7 1289.1,1149.1 1289.5,1152.3 1290.0,1147.4 1290.5,1149.4 1291.0,1149.0 1291.4,1148.1 1291.9,1150.9 1292.4,1154.5 1292.9,1149.5 1293.3,1148.9 1293.8,1147.6 1294.3,1150.7 1294.7,1149.8 1295.2,1148.6 1295.7,1149.9 1296.2,1149.8 1296.6,1148.9 1297.1,1151.1 1297.6,1146.5 1298.1,1151.0 1298.5,1149.3 1299.0,1149.9 1299.5,1150.6 1299.9,1148.4 1300.4,1147.6 1300.9,1146.8 1301.4,1148.3 1301.8,1150.1 1302.3,1147.8 1302.8,1151.9 1303.3,1149.3 1303.7,1148.4 1304.2,1148.4 1304.7,1151.4 1305.1,1152.0 1305.6,1146.4 1306.1,1150.3 1306.6,1152.3 1307.0,1151.6 1307.5,1149.4 1308.0,1147.3 1308.5,1149.4 1308.9,1147.3 1309.4,1149.0 1309.9,1148.6 1310.3,1147.7 1310.8,1150.1 1311.3,1148.9 1311.8,1150.1 1312.2,1150.5 1312.7,1148.3 1313.2,1150.9 1313.6,1149.3 1314.1,1150.8 1314.6,1149.6 1315.1,1150.4 1315.5,1147.5 1316.0,1149.3 1316.5,1149.3 1317.0,1146.6 1317.4,1154.6 1317.9,1151.4 1318.4,1154.3 1318.8,1149.5 1319.3,1148.7 1319.8,1148.4 1320.3,1149.0 1320.7,1151.0 1321.2,1146.4 1321.7,1149.0 1322.2,1150.0 1322.6,1151.5 1323.1,1148.8 1323.6,1150.4 1324.0,1150.3 1324.5,1149.2 1325.0,1149.1 1325.5,1151.0 1325.9,1147.3 1326.4,1151.3 1326.9,1151.5 1327.4,1149.0 1327.8,1149.3 1328.3,1149.4 1328.8,1150.3 1329.2,1149.5 1329.7,1150.5 1330.2,1152.5 1330.7,1148.3 1331.1,1151.3 1331.6,1150.0 1332.1,1148.3 1332.6,1149.5 1333.0,1144.7 1333.5,1152.0 1334.0,1150.9 1334.4,1149.4 1334.9,1147.2 1335.4,1150.0 1335.9,1152.1 1336.3,1147.5 1336.8,1151.2 1337.3,1149.9 1337.8,1148.0 1338.2,1150.7 1338.7,1150.3 1339.2,1148.7 1339.6,1149.9 1340.1,1149.0 1340.6,1151.2 1341.1,1149.8 1341.5,1151.5 1342.0,1152.3 1342.5,1146.4 1343.0,1148.7 1343.4,1147.9 1343.9,1151.2 1344.4,1149.6 1344.8,1149.9 1345.3,1152.0 1345.8,1148.6 1346.3,1150.8 1346.7,1149.9 1347.2,1152.2 1347.7,1147.8 1348.2,1148.2 1348.6,1148.8 1349.1,1151.2 1349.6,1150.5 1350.0,1147.4 1350.5,1150.1 1351.0,1149.2 1351.5,1149.5 1351.9,1151.7 1352.4,1147.1 1352.9,1153.3 1353.4,1149.5 1353.8,1150.1 1354.3,1152.8 1354.8,1149.4 1355.2,1149.1 1355.7,1150.0 1356.2,1151.5 1356.7,1149.4 1357.1,1148.2 1357.6,1149.8 1358.1,1147.3 1358.6,1148.8 1359.0,1149.0 1359.5,1148.0 1360.0,1151.6 1360.4,1151.4 1360.9,1149.6 1361.4,1149.6 1361.9,1147.9 1362.3,1148.6 1362.8,1150.3 1363.3,1150.3 1363.8,1151.2 1364.2,1151.4 1364.7,1151.5 1365.2,1149.2 1365.6,1151.6 1366.1,1151.5 1366.6,1150.6 1367.1,1151.8 1367.5,1151.3 1368.0,1154.7 1368.5,1150.4 1369.0,1151.6 1369.4,1150.7 1369.9,1150.5 1370.4,1154.3 1370.8,1147.0 1371.3,1150.9 1371.8,1150.9 1372.3,1154.2 1372.7,1150.1 1373.2,1150.5 1373.7,1151.8 1374.2,1150.8 1374.6,1149.1 1375.1,1151.8 1375.6,1152.8 1376.0,1149.0 1376.5,1150.8 1377.0,1151.6 1377.5,1147.4 1377.9,1151.1 1378.4,1151.6 1378.9,1150.9 1379.4,1152.1 1379.8,1151.0 1380.3,1151.2 1380.8,1152.6 1381.2,1151.9 1381.7,1150.9 1382.2,1150.8 1382.7,1150.5 1383.1,1150.2 1383.6,1151.1 1384.1,1150.7 1384.5,1152.2 1385.0,1152.0 1385.5,1149.8 1386.0,1154.9 1386.4,1150.9 1386.9,1146.2 1387.4,1154.7 1387.9,1149.0 1388.3,1154.5 1388.8,1150.9 1389.3,1148.8 1389.7,1149.0 1390.2,1153.0 1390.7,1153.7 1391.2,1153.9 1391.6,1150.2 1392.1,1152.1 1392.6,1151.4 1393.1,1150.9 1393.5,1150.6 1394.0,1150.3 1394.5,1151.0 1394.9,1153.9 1395.4,1148.6 1395.9,1155.7 1396.4,1148.8 1396.8,1151.8 1397.3,1151.0 1397.8,1151.5 1398.3,1151.1 1398.7,1150.4 1399.2,1150.7 1399.7,1152.0 1400.1,1148.4 1400.6,1150.8 1401.1,1147.2 1401.6,1149.6 1402.0,1150.4 1402.5,1148.1 1403.0,1147.1 1403.5,1150.0 1403.9,1148.6 1404.4,1145.2 1404.9,1149.3 1405.3,1148.7 1405.8,1146.4 1406.3,1148.6 1406.8,1150.4 1407.2,1148.4 1407.7,1143.9 1408.2,1142.7 1408.7,1142.0 1409.1,1141.6 1409.6,1143.9 1410.1,1138.9 1410.5,1136.6 1411.0,1139.1 1411.5,1133.9 1412.0,1135.0 1412.4,1131.6 1412.9,1128.6 1413.4,1130.3 1413.9,1119.5 1414.3,1121.5 1414.8,1114.7 1415.3,1110.0 1415.7,1100.1 1416.2,1091.4 1416.7,1082.1 1417.2,1063.2 1417.6,1050.7 1418.1,1032.6 1418.6,1019.4 1419.1,973.8 1419.5,936.4 1420.0,900.2 1420.5,863.2 1420.9,826.6 1421.4,817.0 1421.9,823.6 1422.4,854.3 1422.8,893.9 1423.3,907.8 1423.8,931.7 1424.3,923.9 1424.7,928.7 1425.2,938.9 1425.7,946.2 1426.1,965.7 1426.6,991.8 1427.1,1007.0 1427.6,1022.8 1428.0,1053.6 1428.5,1069.6 1429.0,1086.5 1429.5,1099.1 1429.9,1100.2 1430.4,1115.0 1430.9,1118.9 1431.3,1125.2 1431.8,1127.6 1432.3,1132.6 1432.8,1134.2 1433.2,1140.8 1433.7,1140.6 1434.2,1139.6 1434.7,1146.1 1435.1,1146.9 1435.6,1144.4 1436.1,1147.4 1436.5,1147.3 1437.0,1153.9 1437.5,1150.6 1438.0,1153.6 1438.4,1154.4 1438.9,1151.8 1439.4,1151.0 1439.9,1155.7 1440.3,1155.4 1440.8,1154.9 1441.3,1154.4 1441.7,1156.5 1442.2,1151.0 1442.7,1153.9 1443.2,1155.5 1443.6,1155.9 1444.1,1151.6 1444.6,1151.8 1445.1,1156.1 1445.5,1154.9 1446.0,1153.5 1446.5,1157.4 1446.9,1156.5 1447.4,1153.5 1447.9,1156.7 1448.4,1156.3 1448.8,1157.7 1449.3,1156.8 1449.8,1154.5 1450.3,1156.8 1450.7,1157.6 1451.2,1156.5 1451.7,1152.7 1452.1,1155.1 1452.6,1156.2 1453.1,1155.1 1453.6,1154.5 1454.0,1155.0 1454.5,1158.0 1455.0,1154.6 1455.4,1155.3 1455.9,1153.6 1456.4,1157.0 1456.9,1153.1 1457.3,1155.4 1457.8,1157.3 1458.3,1152.3 1458.8,1155.2 1459.2,1153.7 1459.7,1154.4 1460.2,1152.3 1460.6,1152.2 1461.1,1152.1 1461.6,1152.6 1462.1,1156.3 1462.5,1156.3 1463.0,1153.1 1463.5,1154.9 1464.0,1152.5 1464.4,1153.0 1464.9,1155.5 1465.4,1154.9 1465.8,1155.0 1466.3,1154.6 1466.8,1153.5 1467.3,1152.1 1467.7,1151.0 1468.2,1154.9 1468.7,1154.2 1469.2,1150.8 1469.6,1151.9 1470.1,1153.0 1470.6,1157.3 1471.0,1155.1 1471.5,1153.2 1472.0,1154.5 1472.5,1150.3 1472.9,1153.4 1473.4,1153.2 1473.9,1155.4 1474.4,1155.4 1474.8,1154.8 1475.3,1154.8 1475.8,1154.1 1476.2,1153.2 1476.7,1153.4 1477.2,1152.2 1477.7,1156.1 1478.1,1153.5 1478.6,1153.5 1479.1,1151.3 1479.6,1154.3 1480.0,1153.4 1480.5,1155.3 1481.0,1153.3 1481.4,1153.4 1481.9,1155.1 1482.4,1154.8 1482.9,1154.1 1483.3,1153.2 1483.8,1156.0 1484.3,1152.7 1484.8,1154.7 1485.2,1151.1 1485.7,1151.8 1486.2,1154.9 1486.6,1155.2 1487.1,1150.3 1487.6,1153.2 1488.1,1153.4 1488.5,1155.0 1489.0,1154.5 1489.5,1153.0 1490.0,1153.4 1490.4,1155.7 1490.9,1152.4 1491.4,1153.9 1491.8,1155.9 1492.3,1152.8 1492.8,1154.7 1493.3,1153.2 1493.7,1155.4 1494.2,1153.9 1494.7,1157.1 1495.2,1153.9 1495.6,1157.0 1496.1,1154.3 1496.6,1158.6 1497.0,1154.7 1497.5,1153.4 1498.0,1153.8 1498.5,1152.7 1498.9,1156.4 1499.4,1152.1 1499.9,1152.1 1500.4,1156.6 1500.8,1156.0 1501.3,1155.6 1501.8,1154.8 1502.2,1154.4 1502.7,1158.7 1503.2,1153.8 1503.7,1155.2 1504.1,1156.4 1504.6,1153.3 1505.1,1155.4 1505.6,1153.0 1506.0,1154.0 1506.5,1155.4 1507.0,1153.0 1507.4,1153.6 1507.9,1155.7 1508.4,1157.5 1508.9,1155.8 1509.3,1153.9 1509.8,1155.3 1510.3,1152.1 1510.8,1154.5 1511.2,1154.7 1511.7,1154.3 1512.2,1156.4 1512.6,1155.2 1513.1,1156.1 1513.6,1158.8 1514.1,1157.9 1514.5,1153.9 1515.0,1155.8 1515.5,1155.3 1516.0,1157.4 1516.4,1156.0 1516.9,1153.9 1517.4,1155.0 1517.8,1156.0 1518.3,1152.7 1518.8,1155.3 1519.3,1155.7 1519.7,1153.4 1520.2,1157.9 1520.7,1154.3 1521.2,1157.0 1521.6,1156.5 1522.1,1156.3 1522.6,1155.0 1523.0,1155.1 1523.5,1154.8 1524.0,1155.0 1524.5,1153.1 1524.9,1152.6 1525.4,1154.2 1525.9,1154.1 1526.3,1155.9 1526.8,1157.1 1527.3,1154.4 1527.8,1155.3 1528.2,1154.0 1528.7,1158.3 1529.2,1151.2 1529.7,1157.4 1530.1,1155.4 1530.6,1153.9 1531.1,1157.6 1531.5,1156.3 1532.0,1158.6 1532.5,1157.7 1533.0,1158.5 1533.4,1155.3 1533.9,1155.0 1534.4,1156.0 1534.9,1153.5 1535.3,1153.3 1535.8,1155.5 1536.3,1155.9 1536.7,1156.0 1537.2,1156.3 1537.7,1153.5 1538.2,1155.2 1538.6,1156.1 1539.1,1156.0 1539.6,1154.8 1540.1,1156.2 1540.5,1155.1 1541.0,1155.7 1541.5,1153.5 1541.9,1153.8 1542.4,1157.9 1542.9,1155.9 1543.4,1154.6 1543.8,1156.4 1544.3,1154.4 1544.8,1155.2 1545.3,1154.8 1545.7,1155.8 1546.2,1155.3 1546.7,1154.9 1547.1,1158.1 1547.6,1157.2 1548.1,1157.4 1548.6,1153.2 1549.0,1155.3 1549.5,1155.2 1550.0,1155.6 1550.5,1156.6 1550.9,1157.0 1551.4,1154.5 1551.9,1156.4 1552.3,1153.4 1552.8,1155.6 1553.3,1155.7 1553.8,1156.2 1554.2,1156.0 1554.7,1155.9 1555.2,1153.6 1555.7,1152.3 1556.1,1157.7 1556.6,1155.6 1557.1,1154.9 1557.5,1157.4 1558.0,1157.0 1558.5,1156.7 1559.0,1159.7 1559.4,1155.0 1559.9,1156.1 1560.4,1156.2 1560.9,1155.9 1561.3,1155.7 1561.8,1152.5 1562.3,1155.8 1562.7,1154.8 1563.2,1156.9 1563.7,1155.5 1564.2,1156.6 1564.6,1156.3 1565.1,1157.5 1565.6,1157.4 1566.1,1155.4 1566.5,1155.0 1567.0,1155.5 1567.5,1157.2 1567.9,1155.7 1568.4,1160.1 1568.9,1154.8 1569.4,1156.3 1569.8,1155.8 1570.3,1154.4 1570.8,1156.9 1571.3,1154.8 1571.7,1156.9 1572.2,1155.4 1572.7,1156.9 1573.1,1155.8 1573.6,1154.1 1574.1,1157.3 1574.6,1157.2 1575.0,1156.8 1575.5,1155.9 1576.0,1152.1 1576.5,1157.2 1576.9,1159.5 1577.4,1157.4 1577.9,1158.8 1578.3,1157.2 1578.8,1156.4 1579.3,1157.9 1579.8,1157.4 1580.2,1159.3 1580.7,1156.1 1581.2,1157.6 1581.7,1154.8 1582.1,1154.8 1582.6,1157.8 1583.1,1157.0 1583.5,1156.4 1584.0,1155.3 1584.5,1159.0 1585.0,1156.6 1585.4,1153.7 1585.9,1156.7 1586.4,1156.2 1586.9,1156.5 1587.3,1158.4 1587.8,1155.1 1588.3,1156.2 1588.7,1156.3 1589.2,1155.5 1589.7,1155.4 1590.2,1159.5 1590.6,1155.9 1591.1,1157.5 1591.6,1156.4 1592.1,1157.7 1592.5,1158.0 1593.0,1155.2 1593.5,1156.7 1593.9,1157.1 1594.4,1157.1 1594.9,1156.6 1595.4,1156.7 1595.8,1160.3 1596.3,1158.0 1596.8,1157.1 1597.2,1155.6 1597.7,1154.7 1598.2,1158.1 1598.7,1153.8 1599.1,1156.6 1599.6,1156.0 1600.1,1157.6 1600.6,1157.7 1601.0,1154.6 1601.5,1157.1 1602.0,1156.9 1602.4,1155.0 1602.9,1154.2 1603.4,1159.1 1603.9,1157.1 1604.3,1156.8 1604.8,1154.1 1605.3,1153.1 1605.8,1156.9 1606.2,1156.3 1606.7,1155.5 1607.2,1155.1 1607.6,1157.3 1608.1,1155.6 1608.6,1157.9 1609.1,1160.9 1609.5,1159.0 1610.0,1156.6 1610.5,1155.7 1611.0,1160.3 1611.4,1159.6 1611.9,1157.0 1612.4,1162.0 1612.8,1156.1 1613.3,1155.4 1613.8,1161.4 1614.3,1155.8 1614.7,1157.2 1615.2,1154.8 1615.7,1156.5 1616.2,1157.3 1616.6,1156.8 1617.1,1155.6 1617.6,1156.7 1618.0,1156.9 1618.5,1159.2 1619.0,1156.3 1619.5,1157.0 1619.9,1154.3 1620.4,1157.0 1620.9,1157.2 1621.4,1158.0 1621.8,1156.0 1622.3,1157.4 1622.8,1158.1 1623.2,1154.7 1623.7,1154.4 1624.2,1157.8 1624.7,1158.6 1625.1,1155.4 1625.6,1158.3 1626.1,1152.9 1626.6,1157.3 1627.0,1155.7 1627.5,1159.1 1628.0,1157.2 1628.4,1155.5 1628.9,1156.5 1629.4,1158.0 1629.9,1153.5 1630.3,1156.1 1630.8,1157.5 1631.3,1158.1 1631.8,1157.6 1632.2,1155.2 1632.7,1158.4 1633.2,1157.2 1633.6,1158.4 1634.1,1155.4 1634.6,1157.5 1635.1,1156.0 1635.5,1156.4 1636.0,1158.1 1636.5,1156.2 1637.0,1155.9 1637.4,1159.0 1637.9,1156.2 1638.4,1152.0 1638.8,1157.7 1639.3,1156.3 1639.8,1159.3 1640.3,1156.6 1640.7,1158.2 1641.2,1156.2 1641.7,1157.4 1642.2,1159.1 1642.6,1155.7 1643.1,1157.7 1643.6,1158.9 1644.0,1157.3 1644.5,1158.8 1645.0,1156.8 1645.5,1157.5 1645.9,1157.9 1646.4,1156.4 1646.9,1159.3 1647.4,1156.0 1647.8,1160.4 1648.3,1155.0 1648.8,1157.2 1649.2,1157.8 1649.7,1158.5 1650.2,1156.6 1650.7,1157.7 1651.1,1157.8 1651.6,1156.0 1652.1,1158.2 1652.6,1157.9 1653.0,1156.9 1653.5,1156.0 1654.0,1157.8 1654.4,1157.4 1654.9,1157.6 1655.4,1156.6 1655.9,1155.5 1656.3,1159.1 1656.8,1157.9 1657.3,1157.8 1657.8,1156.9 1658.2,1155.5 1658.7,1157.8 1659.2,1157.5 1659.6,1156.1 1660.1,1159.7 1660.6,1159.0 1661.1,1158.5 1661.5,1157.9 1662.0,1157.6 1662.5,1158.7 1663.0,1155.3 1663.4,1159.0 1663.9,1158.3 1664.4,1156.4 1664.8,1156.9 1665.3,1158.0 1665.8,1157.5 1666.3,1156.8 1666.7,1158.1 1667.2,1157.1 1667.7,1159.4 1668.1,1158.0 1668.6,1160.5 1669.1,1159.4 1669.6,1159.8 1670.0,1156.3 1670.5,1158.9 1671.0,1157.8 1671.5,1159.6 1671.9,1158.5 1672.4,1158.6 1672.9,1159.5 1673.3,1157.0 1673.8,1160.7 1674.3,1157.4 1674.8,1154.4 1675.2,1159.5 1675.7,1158.3 1676.2,1160.6 1676.7,1158.4 1677.1,1160.9 1677.6,1157.5 1678.1,1159.1 1678.5,1161.1 1679.0,1160.3 1679.5,1160.7 1680.0,1158.8 1680.4,1157.2 1680.9,1159.0 1681.4,1160.2 1681.9,1159.7 1682.3,1158.3 1682.8,1162.1 1683.3,1157.6 1683.7,1157.9 1684.2,1162.1 1684.7,1156.8 1685.2,1160.9 1685.6,1158.8 1686.1,1156.8 1686.6,1160.9 1687.1,1161.2 1687.5,1160.2 1688.0,1160.1 1688.5,1158.7 1688.9,1159.3 1689.4,1159.2 1689.9,1159.2 1690.4,1158.7 1690.8,1159.7 1691.3,1158.0 1691.8,1158.4 1692.3,1159.9 1692.7,1155.7 1693.2,1160.2 1693.7,1157.3 1694.1,1159.4 1694.6,1157.8 1695.1,1157.5 1695.6,1157.0 1696.0,1156.1 1696.5,1159.4 1697.0,1153.9 1697.5,1157.5 1697.9,1159.3 1698.4,1160.0 1698.9,1154.4 1699.3,1155.4 1699.8,1157.9 1700.3,1156.6 1700.8,1155.7 1701.2,1157.5 1701.7,1158.2 1702.2,1157.6 1702.7,1156.2 1703.1,1157.3 1703.6,1159.1 1704.1,1156.0 1704.5,1159.7 1705.0,1158.1 1705.5,1155.0 1706.0,1156.4 1706.4,1156.2 1706.9,1156.3 1707.4,1154.7 1707.9,1156.3 1708.3,1159.1 1708.8,1155.5 1709.3,1160.5 1709.7,1158.7 1710.2,1152.7 1710.7,1153.3 1711.2,1155.5 1711.6,1154.6 1712.1,1154.1 1712.6,1152.3 1713.1,1154.9 1713.5,1154.7 1714.0,1153.9 1714.5,1152.2 1714.9,1151.6 1715.4,1152.2 1715.9,1149.7 1716.4,1152.2 1716.8,1149.9 1717.3,1150.3 1717.8,1150.1 1718.3,1145.1 1718.7,1147.0 1719.2,1147.3 1719.7,1144.1 1720.1,1144.8 1720.6,1140.0 1721.1,1137.7 1721.6,1135.3 1722.0,1137.7 1722.5,1133.1 1723.0,1125.3 1723.5,1126.8 1723.9,1118.8 1724.4,1113.1 1724.9,1115.5 1725.3,1100.7 1725.8,1093.4 1726.3,1082.2 1726.8,1065.8 1727.2,1054.3 1727.7,1036.0 1728.2,1008.8 1728.7,984.5 1729.1,945.2 1729.6,925.1 1730.1,861.9 1730.5,851.1 1731.0,829.4 1731.5,836.7 1732.0,858.5 1732.4,885.8 1732.9,913.4 1733.4,947.1 1733.9,955.5 1734.3,953.3 1734.8,968.9 1735.3,966.7 1735.7,943.4 1736.2,948.3 1736.7,952.5 1737.2,976.1 1737.6,994.4 1738.1,1014.0 1738.6,1036.4 1739.0,1058.2 1739.5,1079.5 1740.0,1089.7 1740.5,1103.0 1740.9,1102.2 1741.4,1115.4 1741.9,1120.8 1742.4,1124.6 1742.8,1129.4 1743.3,1131.8 1743.8,1137.4 1744.2,1141.9 1744.7,1137.2 1745.2,1144.2 1745.7,1145.5 1746.1,1147.6 1746.6,1148.4 1747.1,1148.6 1747.6,1148.4 1748.0,1152.6 1748.5,1151.1 1749.0,1153.6 1749.4,1151.2 1749.9,1155.9 1750.4,1154.3 1750.9,1153.8 1751.3,1157.6 1751.8,1155.6 1752.3,1155.9 1752.8,1157.7 1753.2,1157.1 1753.7,1155.5 1754.2,1156.8 1754.6,1158.0 1755.1,1157.9 1755.6,1157.0 1756.1,1156.0 1756.5,1156.8 1757.0,1157.0 1757.5,1155.9 1758.0,1160.5 1758.4,1160.4 1758.9,1161.7 1759.4,1157.2 1759.8,1161.8 1760.3,1158.6 1760.8,1157.5 1761.3,1160.6 1761.7,1159.6 1762.2,1159.0 1762.7,1157.6 1763.2,1160.8 1763.6,1158.2 1764.1,1157.6 1764.6,1158.4 1765.0,1158.4 1765.5,1156.8 1766.0,1158.2 1766.5,1158.5 1766.9,1159.0 1767.4,1157.5 1767.9,1158.8 1768.4,1157.4 1768.8,1158.2 1769.3,1156.6 1769.8,1159.4 1770.2,1158.1 1770.7,1157.6 1771.2,1157.5 1771.7,1156.4 1772.1,1157.4 1772.6,1156.6 1773.1,1155.0 1773.6,1156.6 1774.0,1159.4 1774.5,1159.9" fill="none" stroke="#FF5F5F" stroke-width="5" stroke-linejoin="round"/>
<polyline shape-rendering="crispEdges" clip-path="url(#cB)" points="356.5,1954.0 357.0,1956.7 357.4,1959.0 357.9,1977.4 358.4,1955.0 358.9,1975.8 359.3,1951.1 359.8,1953.6 360.3,1951.7 360.8,1951.8 361.2,1956.1 361.7,1962.9 362.2,1961.0 362.6,1946.2 363.1,1963.3 363.6,1960.4 364.1,1964.5 364.5,1962.8 365.0,1961.1 365.5,1956.5 366.0,1961.0 366.4,1961.5 366.9,1963.6 367.4,1957.9 367.8,1969.6 368.3,1958.2 368.8,1947.9 369.3,1964.9 369.7,1959.0 370.2,1935.7 370.7,1966.7 371.2,1971.8 371.6,1962.1 372.1,1943.9 372.6,1942.1 373.0,1968.6 373.5,1954.0 374.0,1958.6 374.5,1963.5 374.9,1974.5 375.4,1950.3 375.9,1965.7 376.4,1956.3 376.8,1958.1 377.3,1943.6 377.8,1949.4 378.2,1968.5 378.7,1961.4 379.2,1951.0 379.7,1970.5 380.1,1963.1 380.6,1958.3 381.1,1973.5 381.6,1970.6 382.0,1974.7 382.5,1958.7 383.0,1965.9 383.4,1954.0 383.9,1960.9 384.4,1957.4 384.9,1962.9 385.3,1956.4 385.8,1963.6 386.3,1970.9 386.8,1953.6 387.2,1955.5 387.7,1945.4 388.2,1965.0 388.6,1968.8 389.1,1976.0 389.6,1995.7 390.1,1975.4 390.5,1961.2 391.0,1972.4 391.5,1986.4 391.9,1960.9 392.4,1970.8 392.9,1969.2 393.4,1970.0 393.8,1967.9 394.3,1963.3 394.8,1981.3 395.3,1969.5 395.7,1972.1 396.2,1959.3 396.7,1977.0 397.1,1956.0 397.6,1964.6 398.1,1956.9 398.6,1975.8 399.0,1964.1 399.5,1968.0 400.0,1983.2 400.5,1973.7 400.9,1975.6 401.4,1980.0 401.9,1978.8 402.3,1984.5 402.8,1977.1 403.3,1971.1 403.8,1980.3 404.2,1986.9 404.7,1966.7 405.2,1978.4 405.7,1975.8 406.1,1978.4 406.6,1981.5 407.1,1973.1 407.5,1982.7 408.0,1979.0 408.5,1991.3 409.0,1993.5 409.4,1984.4 409.9,1967.2 410.4,1981.4 410.9,1968.5 411.3,1980.7 411.8,1981.4 412.3,1990.2 412.7,1986.5 413.2,1973.2 413.7,1978.6 414.2,1993.3 414.6,1992.8 415.1,1979.7 415.6,1994.8 416.1,1984.7 416.5,1999.7 417.0,1989.1 417.5,1983.4 417.9,1989.9 418.4,1995.7 418.9,1997.9 419.4,2001.0 419.8,2001.9 420.3,1994.3 420.8,1996.0 421.3,2003.2 421.7,2017.3 422.2,2013.6 422.7,2009.6 423.1,2013.5 423.6,2025.9 424.1,2013.5 424.6,2002.0 425.0,2031.9 425.5,2025.1 426.0,2016.5 426.5,2033.3 426.9,2035.6 427.4,2033.9 427.9,2033.6 428.3,2042.7 428.8,2035.5 429.3,2057.5 429.8,2042.4 430.2,2046.7 430.7,2052.5 431.2,2051.2 431.7,2055.8 432.1,2049.7 432.6,2063.8 433.1,2063.4 433.5,2074.5 434.0,2075.1 434.5,2071.8 435.0,2082.5 435.4,2080.4 435.9,2085.8 436.4,2082.9 436.9,2081.6 437.3,2078.8 437.8,2098.8 438.3,2090.4 438.7,2086.1 439.2,2085.1 439.7,2087.1 440.2,2105.9 440.6,2102.4 441.1,2097.9 441.6,2097.6 442.1,2103.3 442.5,2105.2 443.0,2107.1 443.5,2114.6 443.9,2110.9 444.4,2108.7 444.9,2116.7 445.4,2109.6 445.8,2133.2 446.3,2120.4 446.8,2110.3 447.3,2116.0 447.7,2114.0 448.2,2122.2 448.7,2130.6 449.1,2128.0 449.6,2118.1 450.1,2137.3 450.6,2133.7 451.0,2138.8 451.5,2133.5 452.0,2133.9 452.5,2129.5 452.9,2137.8 453.4,2125.2 453.9,2131.6 454.3,2138.2 454.8,2141.6 455.3,2144.8 455.8,2137.0 456.2,2128.0 456.7,2139.8 457.2,2144.9 457.7,2140.5 458.1,2143.5 458.6,2146.1 459.1,2151.8 459.5,2143.0 460.0,2135.7 460.5,2137.6 461.0,2139.5 461.4,2143.9 461.9,2143.1 462.4,2140.9 462.8,2146.8 463.3,2145.6 463.8,2149.4 464.3,2142.2 464.7,2153.0 465.2,2145.4 465.7,2145.0 466.2,2145.6 466.6,2146.6 467.1,2152.7 467.6,2153.5 468.0,2153.0 468.5,2152.9 469.0,2156.5 469.5,2152.5 469.9,2151.9 470.4,2150.8 470.9,2140.1 471.4,2141.1 471.8,2131.8 472.3,2123.8 472.8,2124.6 473.2,2137.9 473.7,2138.0 474.2,2146.5 474.7,2139.1 475.1,2144.8 475.6,2148.5 476.1,2155.4 476.6,2156.2 477.0,2152.7 477.5,2155.8 478.0,2157.1 478.4,2152.8 478.9,2162.4 479.4,2166.3 479.9,2161.8 480.3,2162.7 480.8,2157.7 481.3,2161.7 481.8,2158.7 482.2,2167.7 482.7,2151.1 483.2,2156.5 483.6,2162.7 484.1,2157.2 484.6,2153.0 485.1,2155.1 485.5,2159.7 486.0,2156.5 486.5,2155.4 487.0,2165.6 487.4,2166.9 487.9,2163.0 488.4,2155.7 488.8,2153.5 489.3,2160.1 489.8,2153.7 490.3,2156.3 490.7,2161.6 491.2,2164.9 491.7,2164.6 492.2,2161.3 492.6,2155.2 493.1,2158.0 493.6,2168.4 494.0,2168.2 494.5,2158.6 495.0,2161.7 495.5,2167.2 495.9,2159.7 496.4,2156.6 496.9,2159.4 497.4,2162.8 497.8,2157.1 498.3,2165.4 498.8,2166.4 499.2,2168.0 499.7,2154.7 500.2,2153.6 500.7,2163.7 501.1,2160.6 501.6,2161.1 502.1,2158.6 502.6,2157.2 503.0,2159.4 503.5,2162.9 504.0,2164.7 504.4,2166.9 504.9,2174.3 505.4,2162.1 505.9,2165.3 506.3,2161.0 506.8,2161.4 507.3,2165.5 507.8,2162.8 508.2,2158.1 508.7,2159.0 509.2,2163.7 509.6,2162.8 510.1,2156.1 510.6,2157.3 511.1,2156.6 511.5,2158.5 512.0,2153.7 512.5,2156.3 513.0,2144.1 513.4,2158.1 513.9,2158.7 514.4,2146.6 514.8,2154.5 515.3,2157.3 515.8,2150.7 516.3,2163.6 516.7,2149.2 517.2,2150.5 517.7,2148.5 518.2,2152.9 518.6,2141.4 519.1,2145.4 519.6,2146.0 520.0,2142.9 520.5,2147.8 521.0,2143.0 521.5,2148.8 521.9,2145.5 522.4,2136.9 522.9,2136.3 523.4,2131.4 523.8,2137.1 524.3,2132.3 524.8,2133.2 525.2,2125.6 525.7,2119.8 526.2,2114.8 526.7,2113.6 527.1,2116.8 527.6,2105.7 528.1,2106.8 528.6,2104.8 529.0,2083.2 529.5,2072.8 530.0,2054.6 530.4,2035.7 530.9,2025.9 531.4,1989.7 531.9,1933.8 532.3,1863.2 532.8,1761.1 533.3,1647.6 533.7,1459.3 534.2,1226.4 534.7,945.1 535.2,733.4 535.6,406.2 536.1,257.0 536.6,214.0 537.1,216.9 537.5,472.8 538.0,735.0 538.5,972.4 538.9,1225.6 539.4,1461.6 539.9,1648.3 540.4,1790.6 540.8,1873.1 541.3,1964.7 541.8,2006.2 542.3,2023.1 542.7,2052.1 543.2,2067.7 543.7,2087.9 544.1,2109.2 544.6,2109.9 545.1,2131.1 545.6,2124.8 546.0,2127.8 546.5,2145.8 547.0,2140.5 547.5,2150.0 547.9,2155.0 548.4,2167.4 548.9,2161.9 549.3,2160.0 549.8,2174.7 550.3,2171.3 550.8,2174.5 551.2,2180.6 551.7,2170.5 552.2,2176.7 552.7,2178.1 553.1,2175.4 553.6,2184.3 554.1,2168.3 554.5,2185.4 555.0,2189.5 555.5,2182.9 556.0,2185.0 556.4,2191.6 556.9,2192.2 557.4,2185.8 557.9,2188.9 558.3,2189.1 558.8,2188.0 559.3,2194.8 559.7,2187.9 560.2,2193.6 560.7,2191.5 561.2,2198.8 561.6,2192.7 562.1,2195.3 562.6,2187.2 563.1,2198.3 563.5,2192.3 564.0,2196.5 564.5,2193.5 564.9,2199.3 565.4,2199.0 565.9,2210.1 566.4,2207.0 566.8,2198.5 567.3,2201.5 567.8,2200.7 568.3,2205.3 568.7,2201.8 569.2,2206.7 569.7,2206.1 570.1,2201.8 570.6,2202.9 571.1,2209.1 571.6,2207.7 572.0,2207.5 572.5,2209.4 573.0,2209.7 573.5,2213.3 573.9,2208.1 574.4,2214.5 574.9,2214.6 575.3,2206.8 575.8,2205.2 576.3,2205.6 576.8,2211.4 577.2,2215.1 577.7,2210.8 578.2,2208.3 578.7,2213.9 579.1,2216.2 579.6,2221.1 580.1,2221.5 580.5,2209.8 581.0,2221.5 581.5,2219.0 582.0,2218.1 582.4,2216.6 582.9,2222.4 583.4,2216.2 583.9,2216.6 584.3,2218.7 584.8,2221.5 585.3,2221.0 585.7,2226.8 586.2,2218.3 586.7,2222.7 587.2,2225.9 587.6,2221.7 588.1,2220.2 588.6,2221.0 589.1,2220.4 589.5,2218.8 590.0,2224.8 590.5,2222.6 590.9,2222.6 591.4,2228.7 591.9,2220.3 592.4,2225.3 592.8,2223.6 593.3,2223.6 593.8,2227.6 594.3,2222.3 594.7,2222.0 595.2,2224.9 595.7,2235.4 596.1,2221.4 596.6,2226.6 597.1,2228.5 597.6,2228.5 598.0,2230.4 598.5,2228.2 599.0,2225.2 599.5,2231.1 599.9,2226.9 600.4,2229.8 600.9,2228.9 601.3,2229.5 601.8,2227.5 602.3,2225.4 602.8,2228.9 603.2,2226.2 603.7,2224.5 604.2,2234.2 604.6,2227.2 605.1,2230.9 605.6,2230.7 606.1,2227.2 606.5,2231.3 607.0,2232.7 607.5,2226.8 608.0,2227.7 608.4,2230.0 608.9,2222.5 609.4,2234.8 609.8,2237.0 610.3,2232.7 610.8,2235.9 611.3,2231.3 611.7,2234.5 612.2,2234.7 612.7,2233.0 613.2,2235.8 613.6,2239.4 614.1,2235.7 614.6,2231.4 615.0,2232.9 615.5,2230.8 616.0,2228.5 616.5,2231.1 616.9,2234.2 617.4,2236.4 617.9,2232.7 618.4,2229.2 618.8,2229.8 619.3,2231.4 619.8,2236.9 620.2,2232.7 620.7,2232.3 621.2,2230.8 621.7,2238.6 622.1,2236.9 622.6,2234.4 623.1,2234.5 623.6,2236.9 624.0,2233.5 624.5,2236.0 625.0,2231.7 625.4,2236.8 625.9,2234.7 626.4,2241.9 626.9,2234.8 627.3,2237.6 627.8,2233.4 628.3,2236.2 628.8,2231.9 629.2,2237.4 629.7,2240.3 630.2,2235.1 630.6,2234.1 631.1,2238.3 631.6,2240.1 632.1,2233.8 632.5,2233.0 633.0,2234.1 633.5,2236.1 634.0,2236.5 634.4,2231.5 634.9,2234.1 635.4,2239.1 635.8,2239.0 636.3,2232.5 636.8,2230.2 637.3,2231.8 637.7,2229.3 638.2,2220.7 638.7,2223.3 639.2,2219.6 639.6,2228.3 640.1,2231.0 640.6,2236.7 641.0,2234.4 641.5,2237.9 642.0,2243.4 642.5,2238.9 642.9,2241.5 643.4,2241.1 643.9,2236.6 644.4,2238.1 644.8,2239.8 645.3,2242.5 645.8,2245.2 646.2,2243.9 646.7,2243.3 647.2,2238.7 647.7,2245.3 648.1,2244.4 648.6,2243.1 649.1,2242.1 649.6,2240.3 650.0,2239.8 650.5,2244.3 651.0,2238.5 651.4,2242.3 651.9,2246.7 652.4,2247.5 652.9,2246.1 653.3,2245.8 653.8,2243.0 654.3,2247.8 654.8,2247.2 655.2,2248.2 655.7,2245.1 656.2,2250.1 656.6,2244.5 657.1,2248.4 657.6,2246.8 658.1,2245.0 658.5,2245.4 659.0,2238.5 659.5,2248.9 660.0,2252.3 660.4,2250.2 660.9,2244.2 661.4,2249.6 661.8,2243.7 662.3,2247.3 662.8,2244.6 663.3,2251.1 663.7,2243.9 664.2,2243.6 664.7,2249.5 665.2,2243.3 665.6,2239.7 666.1,2247.1 666.6,2249.7 667.0,2248.8 667.5,2248.0 668.0,2244.4 668.5,2242.2 668.9,2248.5 669.4,2248.0 669.9,2251.3 670.4,2249.0 670.8,2246.2 671.3,2253.2 671.8,2245.7 672.2,2245.2 672.7,2244.4 673.2,2249.4 673.7,2252.2 674.1,2248.7 674.6,2250.8 675.1,2252.9 675.5,2250.2 676.0,2252.0 676.5,2242.8 677.0,2246.1 677.4,2245.8 677.9,2251.3 678.4,2244.5 678.9,2249.4 679.3,2246.1 679.8,2251.3 680.3,2246.8 680.7,2253.2 681.2,2249.1 681.7,2249.3 682.2,2252.5 682.6,2248.7 683.1,2250.4 683.6,2249.9 684.1,2246.9 684.5,2245.4 685.0,2249.5 685.5,2245.5 685.9,2246.3 686.4,2247.1 686.9,2244.8 687.4,2253.4 687.8,2245.6 688.3,2248.3 688.8,2250.4 689.3,2249.8 689.7,2246.6 690.2,2246.2 690.7,2247.5 691.1,2252.7 691.6,2253.5 692.1,2249.3 692.6,2247.7 693.0,2251.2 693.5,2246.6 694.0,2247.1 694.5,2246.9 694.9,2249.8 695.4,2243.4 695.9,2243.2 696.3,2241.1 696.8,2242.9 697.3,2246.9 697.8,2241.7 698.2,2240.4 698.7,2243.8 699.2,2247.5 699.7,2243.7 700.1,2244.6 700.6,2250.9 701.1,2250.3 701.5,2253.0 702.0,2248.8 702.5,2249.6 703.0,2245.7 703.4,2253.1 703.9,2247.2 704.4,2251.5 704.9,2250.3 705.3,2254.5 705.8,2251.2 706.3,2252.7 706.7,2251.7 707.2,2250.9 707.7,2250.2 708.2,2249.3 708.6,2251.7 709.1,2254.1 709.6,2249.0 710.1,2251.6 710.5,2253.5 711.0,2248.3 711.5,2251.2 711.9,2250.1 712.4,2256.6 712.9,2253.9 713.4,2246.9 713.8,2251.0 714.3,2251.1 714.8,2254.4 715.3,2252.9 715.7,2251.6 716.2,2252.9 716.7,2253.1 717.1,2257.5 717.6,2255.0 718.1,2254.2 718.6,2251.6 719.0,2251.8 719.5,2253.2 720.0,2255.2 720.5,2255.2 720.9,2252.8 721.4,2257.0 721.9,2254.1 722.3,2254.4 722.8,2254.4 723.3,2249.4 723.8,2254.2 724.2,2251.6 724.7,2249.8 725.2,2252.7 725.7,2254.1 726.1,2257.4 726.6,2250.0 727.1,2257.2 727.5,2259.7 728.0,2251.6 728.5,2258.3 729.0,2257.7 729.4,2256.5 729.9,2257.8 730.4,2260.4 730.9,2254.3 731.3,2253.6 731.8,2253.0 732.3,2255.1 732.7,2256.1 733.2,2256.5 733.7,2252.1 734.2,2253.1 734.6,2256.5 735.1,2254.6 735.6,2258.5 736.1,2254.2 736.5,2258.3 737.0,2256.0 737.5,2256.3 737.9,2262.6 738.4,2254.0 738.9,2255.9 739.4,2257.8 739.8,2257.7 740.3,2256.1 740.8,2256.3 741.3,2254.7 741.7,2255.5 742.2,2254.3 742.7,2255.2 743.1,2259.4 743.6,2259.4 744.1,2254.6 744.6,2254.8 745.0,2255.8 745.5,2259.1 746.0,2257.6 746.4,2257.8 746.9,2254.0 747.4,2257.8 747.9,2259.2 748.3,2257.7 748.8,2254.9 749.3,2251.6 749.8,2256.9 750.2,2252.7 750.7,2256.7 751.2,2256.6 751.6,2257.7 752.1,2253.4 752.6,2256.7 753.1,2253.0 753.5,2256.4 754.0,2250.8 754.5,2254.7 755.0,2255.1 755.4,2258.2 755.9,2251.8 756.4,2254.3 756.8,2254.8 757.3,2254.9 757.8,2256.1 758.3,2256.1 758.7,2253.8 759.2,2256.7 759.7,2254.9 760.2,2248.6 760.6,2254.7 761.1,2255.0 761.6,2251.9 762.0,2256.6 762.5,2250.4 763.0,2253.9 763.5,2256.8 763.9,2254.0 764.4,2255.3 764.9,2251.6 765.4,2254.5 765.8,2251.2 766.3,2258.0 766.8,2253.9 767.2,2251.1 767.7,2251.0 768.2,2252.0 768.7,2249.9 769.1,2249.6 769.6,2251.4 770.1,2250.6 770.6,2248.4 771.0,2250.1 771.5,2257.1 772.0,2254.1 772.4,2251.2 772.9,2247.1 773.4,2248.4 773.9,2246.3 774.3,2244.7 774.8,2245.4 775.3,2248.9 775.8,2243.2 776.2,2248.6 776.7,2247.6 777.2,2244.3 777.6,2248.6 778.1,2236.0 778.6,2232.6 779.1,2238.7 779.5,2237.8 780.0,2241.3 780.5,2231.1 781.0,2232.7 781.4,2231.7 781.9,2229.3 782.4,2221.3 782.8,2217.0 783.3,2210.8 783.8,2205.2 784.3,2199.8 784.7,2173.2 785.2,2157.7 785.7,2140.7 786.2,2114.2 786.6,2073.1 787.1,2012.0 787.6,1953.1 788.0,1885.4 788.5,1799.3 789.0,1737.8 789.5,1638.1 789.9,1589.3 790.4,1558.4 790.9,1524.0 791.4,1533.6 791.8,1574.3 792.3,1585.4 792.8,1683.3 793.2,1726.1 793.7,1795.6 794.2,1877.3 794.7,1936.8 795.1,1986.6 795.6,2054.7 796.1,2095.6 796.6,2124.7 797.0,2146.9 797.5,2164.8 798.0,2183.1 798.4,2201.9 798.9,2202.3 799.4,2210.9 799.9,2215.3 800.3,2228.8 800.8,2232.4 801.3,2232.0 801.8,2233.8 802.2,2234.6 802.7,2239.8 803.2,2241.4 803.6,2238.4 804.1,2247.3 804.6,2245.7 805.1,2243.2 805.5,2242.1 806.0,2244.3 806.5,2241.4 807.0,2245.8 807.4,2245.3 807.9,2245.6 808.4,2248.3 808.8,2252.6 809.3,2250.2 809.8,2250.4 810.3,2252.6 810.7,2248.8 811.2,2252.3 811.7,2255.2 812.2,2251.5 812.6,2254.4 813.1,2250.5 813.6,2259.1 814.0,2256.9 814.5,2252.5 815.0,2252.0 815.5,2252.6 815.9,2249.0 816.4,2253.8 816.9,2254.6 817.3,2251.1 817.8,2254.2 818.3,2252.4 818.8,2250.1 819.2,2253.9 819.7,2253.7 820.2,2255.0 820.7,2252.3 821.1,2251.7 821.6,2250.5 822.1,2251.3 822.5,2247.6 823.0,2252.3 823.5,2252.1 824.0,2253.0 824.4,2248.5 824.9,2251.4 825.4,2252.0 825.9,2254.3 826.3,2250.6 826.8,2247.4 827.3,2256.2 827.7,2251.4 828.2,2250.1 828.7,2249.0 829.2,2245.5 829.6,2245.5 830.1,2242.7 830.6,2240.7 831.1,2235.6 831.5,2238.2 832.0,2233.7 832.5,2232.1 832.9,2226.7 833.4,2222.8 833.9,2218.5 834.4,2203.1 834.8,2187.2 835.3,2178.5 835.8,2152.3 836.3,2124.1 836.7,2101.9 837.2,2034.7 837.7,1989.2 838.1,1938.2 838.6,1884.9 839.1,1850.8 839.6,1824.7 840.0,1771.5 840.5,1758.0 841.0,1766.1 841.5,1785.2 841.9,1798.2 842.4,1836.4 842.9,1886.6 843.3,1937.5 843.8,1963.6 844.3,2021.4 844.8,2068.4 845.2,2113.0 845.7,2144.2 846.2,2174.3 846.7,2182.6 847.1,2196.1 847.6,2210.2 848.1,2218.9 848.5,2225.3 849.0,2229.0 849.5,2241.5 850.0,2243.2 850.4,2239.7 850.9,2243.9 851.4,2245.2 851.9,2251.1 852.3,2245.8 852.8,2250.9 853.3,2253.1 853.7,2255.8 854.2,2254.0 854.7,2255.0 855.2,2256.5 855.6,2252.9 856.1,2254.7 856.6,2258.3 857.1,2260.3 857.5,2260.5 858.0,2259.1 858.5,2267.1 858.9,2260.1 859.4,2261.8 859.9,2256.6 860.4,2261.0 860.8,2262.8 861.3,2262.6 861.8,2264.5 862.3,2265.0 862.7,2263.8 863.2,2268.6 863.7,2264.2 864.1,2268.3 864.6,2266.4 865.1,2266.6 865.6,2263.6 866.0,2261.9 866.5,2262.4 867.0,2267.0 867.5,2266.6 867.9,2266.2 868.4,2266.1 868.9,2264.1 869.3,2265.3 869.8,2267.0 870.3,2262.9 870.8,2265.3 871.2,2263.4 871.7,2267.8 872.2,2266.5 872.7,2267.2 873.1,2267.7 873.6,2270.5 874.1,2267.8 874.5,2271.7 875.0,2267.7 875.5,2264.9 876.0,2266.2 876.4,2268.1 876.9,2269.4 877.4,2267.1 877.9,2271.0 878.3,2271.2 878.8,2271.2 879.3,2267.3 879.7,2270.7 880.2,2265.9 880.7,2264.3 881.2,2264.3 881.6,2265.2 882.1,2263.0 882.6,2265.7 883.1,2261.3 883.5,2256.5 884.0,2255.9 884.5,2262.4 884.9,2257.8 885.4,2258.0 885.9,2254.8 886.4,2256.6 886.8,2258.2 887.3,2260.4 887.8,2259.6 888.2,2261.5 888.7,2262.3 889.2,2264.1 889.7,2267.8 890.1,2265.2 890.6,2266.1 891.1,2267.5 891.6,2268.1 892.0,2266.7 892.5,2267.5 893.0,2266.7 893.4,2269.1 893.9,2269.0 894.4,2270.9 894.9,2273.4 895.3,2273.8 895.8,2270.3 896.3,2271.3 896.8,2270.5 897.2,2276.5 897.7,2272.3 898.2,2271.7 898.6,2272.8 899.1,2272.6 899.6,2275.9 900.1,2272.5 900.5,2269.7 901.0,2274.7 901.5,2271.3 902.0,2274.0 902.4,2272.2 902.9,2269.6 903.4,2272.5 903.8,2271.9 904.3,2271.4 904.8,2272.8 905.3,2270.2 905.7,2277.0 906.2,2273.6 906.7,2276.9 907.2,2276.1 907.6,2273.0 908.1,2275.6 908.6,2273.9 909.0,2270.4 909.5,2272.1 910.0,2265.5 910.5,2273.5 910.9,2273.2 911.4,2278.4 911.9,2273.4 912.4,2274.4 912.8,2272.5 913.3,2273.4 913.8,2274.9 914.2,2277.6 914.7,2272.0 915.2,2275.1 915.7,2277.2 916.1,2272.9 916.6,2277.9 917.1,2275.1 917.6,2278.1 918.0,2274.5 918.5,2277.4 919.0,2268.1 919.4,2271.8 919.9,2273.1 920.4,2273.4 920.9,2272.8 921.3,2272.5 921.8,2273.7 922.3,2276.5 922.8,2273.9 923.2,2277.5 923.7,2275.1 924.2,2273.5 924.6,2276.6 925.1,2273.5 925.6,2275.4 926.1,2269.6 926.5,2275.2 927.0,2273.5 927.5,2273.2 928.0,2274.2 928.4,2273.8 928.9,2275.0 929.4,2274.1 929.8,2273.9 930.3,2272.5 930.8,2271.4 931.3,2273.8 931.7,2270.6 932.2,2273.1 932.7,2274.6 933.2,2273.0 933.6,2272.9 934.1,2271.3 934.6,2269.9 935.0,2268.7 935.5,2265.8 936.0,2265.9 936.5,2267.9 936.9,2265.1 937.4,2266.2 937.9,2264.2 938.4,2263.2 938.8,2266.7 939.3,2265.3 939.8,2264.7 940.2,2267.8 940.7,2271.9 941.2,2270.6 941.7,2273.1 942.1,2269.8 942.6,2272.2 943.1,2272.5 943.6,2270.0 944.0,2272.5 944.5,2274.1 945.0,2278.3 945.4,2275.9 945.9,2276.4 946.4,2275.5 946.9,2277.7 947.3,2274.1 947.8,2272.9 948.3,2276.1 948.8,2278.4 949.2,2275.3 949.7,2276.0 950.2,2273.5 950.6,2275.6 951.1,2277.0 951.6,2278.3 952.1,2275.5 952.5,2280.2 953.0,2277.7 953.5,2274.0 954.0,2275.8 954.4,2275.5 954.9,2275.8 955.4,2278.1 955.8,2276.0 956.3,2274.3 956.8,2274.1 957.3,2277.1 957.7,2274.8 958.2,2273.0 958.7,2274.2 959.1,2271.5 959.6,2274.4 960.1,2277.6 960.6,2274.1 961.0,2273.5 961.5,2272.2 962.0,2272.2 962.5,2269.8 962.9,2271.2 963.4,2271.6 963.9,2272.5 964.3,2271.2 964.8,2266.9 965.3,2264.3 965.8,2266.0 966.2,2264.2 966.7,2262.3 967.2,2257.4 967.7,2253.1 968.1,2248.6 968.6,2237.1 969.1,2234.7 969.5,2220.8 970.0,2210.0 970.5,2197.1 971.0,2190.0 971.4,2185.0 971.9,2175.6 972.4,2177.5 972.9,2175.2 973.3,2180.2 973.8,2171.4 974.3,2197.1 974.7,2200.3 975.2,2199.3 975.7,2213.9 976.2,2227.0 976.6,2229.2 977.1,2232.9 977.6,2246.1 978.1,2249.8 978.5,2260.4 979.0,2262.3 979.5,2263.6 979.9,2266.1 980.4,2269.9 980.9,2271.1 981.4,2272.3 981.8,2273.5 982.3,2273.7 982.8,2274.2 983.3,2272.6 983.7,2276.7 984.2,2273.0 984.7,2270.6 985.1,2273.8 985.6,2274.9 986.1,2275.6 986.6,2274.2 987.0,2275.0 987.5,2271.1 988.0,2270.8 988.5,2267.7 988.9,2267.5 989.4,2265.1 989.9,2262.3 990.3,2262.7 990.8,2258.1 991.3,2262.0 991.8,2266.2 992.2,2264.8 992.7,2265.8 993.2,2268.6 993.7,2268.8 994.1,2270.5 994.6,2270.3 995.1,2274.4 995.5,2277.0 996.0,2276.7 996.5,2280.2 997.0,2282.1 997.4,2279.4 997.9,2278.6 998.4,2279.2 998.9,2275.8 999.3,2280.2 999.8,2280.6 1000.3,2274.6 1000.7,2281.4 1001.2,2277.1 1001.7,2278.8 1002.2,2283.5 1002.6,2276.8 1003.1,2279.4 1003.6,2278.1 1004.1,2278.4 1004.5,2278.3 1005.0,2277.2 1005.5,2274.9 1005.9,2278.5 1006.4,2279.4 1006.9,2277.4 1007.4,2278.3 1007.8,2283.9 1008.3,2278.4 1008.8,2280.0 1009.3,2279.8 1009.7,2282.1 1010.2,2275.9 1010.7,2278.5 1011.1,2280.3 1011.6,2280.3 1012.1,2279.9 1012.6,2279.8 1013.0,2278.2 1013.5,2279.0 1014.0,2280.7 1014.5,2280.2 1014.9,2278.7 1015.4,2281.6 1015.9,2280.6 1016.3,2278.1 1016.8,2279.9 1017.3,2277.3 1017.8,2282.1 1018.2,2280.8 1018.7,2281.5 1019.2,2281.6 1019.7,2278.6 1020.1,2278.1 1020.6,2279.9 1021.1,2280.3 1021.5,2276.8 1022.0,2277.1 1022.5,2283.9 1023.0,2280.3 1023.4,2283.9 1023.9,2283.0 1024.4,2281.4 1024.9,2282.3 1025.3,2279.1 1025.8,2281.0 1026.3,2280.6 1026.7,2280.4 1027.2,2277.0 1027.7,2279.6 1028.2,2278.5 1028.6,2279.2 1029.1,2278.0 1029.6,2280.1 1030.0,2280.3 1030.5,2277.8 1031.0,2279.9 1031.5,2283.1 1031.9,2282.4 1032.4,2280.9 1032.9,2279.2 1033.4,2281.5 1033.8,2277.3 1034.3,2279.2 1034.8,2280.4 1035.2,2282.1 1035.7,2278.5 1036.2,2278.6 1036.7,2281.9 1037.1,2277.2 1037.6,2277.3 1038.1,2276.8 1038.6,2279.5 1039.0,2277.6 1039.5,2283.0 1040.0,2278.3 1040.4,2279.7 1040.9,2279.0 1041.4,2277.8 1041.9,2279.8 1042.3,2278.7 1042.8,2280.0 1043.3,2279.4 1043.8,2279.8 1044.2,2276.7 1044.7,2274.6 1045.2,2278.6 1045.6,2279.5 1046.1,2276.4 1046.6,2274.8 1047.1,2274.5 1047.5,2276.8 1048.0,2273.8 1048.5,2274.9 1049.0,2273.2 1049.4,2271.6 1049.9,2271.1 1050.4,2267.8 1050.8,2268.3 1051.3,2261.7 1051.8,2262.3 1052.3,2262.0 1052.7,2252.3 1053.2,2246.8 1053.7,2240.8 1054.2,2231.9 1054.6,2218.4 1055.1,2200.9 1055.6,2186.1 1056.0,2159.8 1056.5,2141.6 1057.0,2108.5 1057.5,2088.9 1057.9,2052.8 1058.4,2026.6 1058.9,2016.2 1059.4,1999.4 1059.8,2014.0 1060.3,2005.9 1060.8,2017.2 1061.2,2024.5 1061.7,2045.5 1062.2,2057.6 1062.7,2074.1 1063.1,2108.2 1063.6,2127.8 1064.1,2147.1 1064.6,2172.0 1065.0,2190.4 1065.5,2211.6 1066.0,2223.1 1066.4,2238.6 1066.9,2242.0 1067.4,2250.5 1067.9,2256.2 1068.3,2266.1 1068.8,2262.8 1069.3,2264.5 1069.8,2267.1 1070.2,2270.9 1070.7,2270.6 1071.2,2274.4 1071.6,2276.8 1072.1,2276.6 1072.6,2278.7 1073.1,2274.8 1073.5,2283.3 1074.0,2278.9 1074.5,2281.5 1075.0,2281.4 1075.4,2279.7 1075.9,2281.5 1076.4,2279.9 1076.8,2282.4 1077.3,2282.7 1077.8,2282.7 1078.3,2281.0 1078.7,2284.6 1079.2,2284.3 1079.7,2284.9 1080.2,2285.0 1080.6,2286.5 1081.1,2285.1 1081.6,2284.1 1082.0,2282.7 1082.5,2284.4 1083.0,2286.2 1083.5,2283.0 1083.9,2288.3 1084.4,2284.8 1084.9,2287.7 1085.4,2286.0 1085.8,2288.0 1086.3,2288.4 1086.8,2286.9 1087.2,2283.3 1087.7,2285.6 1088.2,2284.8 1088.7,2286.9 1089.1,2286.4 1089.6,2287.7 1090.1,2287.4 1090.6,2287.1 1091.0,2285.1 1091.5,2286.2 1092.0,2287.9 1092.4,2287.0 1092.9,2288.2 1093.4,2286.0 1093.9,2286.5 1094.3,2286.5 1094.8,2285.9 1095.3,2286.1 1095.8,2284.7 1096.2,2288.2 1096.7,2285.9 1097.2,2287.4 1097.6,2285.7 1098.1,2287.9 1098.6,2289.8 1099.1,2287.9 1099.5,2288.2 1100.0,2289.0 1100.5,2287.9 1100.9,2285.5 1101.4,2287.9 1101.9,2286.3 1102.4,2285.3 1102.8,2285.8 1103.3,2286.7 1103.8,2286.0 1104.3,2288.1 1104.7,2289.5 1105.2,2289.8 1105.7,2286.1 1106.1,2285.5 1106.6,2288.0 1107.1,2287.6 1107.6,2291.2 1108.0,2286.5 1108.5,2287.8 1109.0,2290.5 1109.5,2286.9 1109.9,2286.8 1110.4,2286.4 1110.9,2287.9 1111.3,2287.3 1111.8,2289.1 1112.3,2285.6 1112.8,2288.3 1113.2,2285.8 1113.7,2287.0 1114.2,2288.1 1114.7,2285.8 1115.1,2288.8 1115.6,2287.2 1116.1,2287.6 1116.5,2288.0 1117.0,2287.6 1117.5,2286.8 1118.0,2288.4 1118.4,2288.6 1118.9,2288.2 1119.4,2288.7 1119.9,2289.4 1120.3,2287.5 1120.8,2290.6 1121.3,2288.1 1121.7,2288.7 1122.2,2287.8 1122.7,2287.3 1123.2,2287.7 1123.6,2288.1 1124.1,2286.1 1124.6,2288.9 1125.1,2289.9 1125.5,2288.5 1126.0,2287.1 1126.5,2285.4 1126.9,2284.9 1127.4,2287.6 1127.9,2286.4 1128.4,2285.6 1128.8,2288.8 1129.3,2285.8 1129.8,2287.4 1130.3,2288.3 1130.7,2287.3 1131.2,2287.1 1131.7,2291.2 1132.1,2288.0 1132.6,2287.8 1133.1,2289.2 1133.6,2287.9 1134.0,2288.8 1134.5,2289.4 1135.0,2288.3 1135.5,2291.1 1135.9,2287.4 1136.4,2287.1 1136.9,2287.3 1137.3,2286.8 1137.8,2288.2 1138.3,2288.2 1138.8,2290.0 1139.2,2289.8 1139.7,2288.2 1140.2,2285.5 1140.7,2286.9 1141.1,2284.8 1141.6,2285.6 1142.1,2288.4 1142.5,2287.8 1143.0,2288.6 1143.5,2289.1 1144.0,2286.5 1144.4,2285.8 1144.9,2288.3 1145.4,2285.2 1145.9,2285.5 1146.3,2287.8 1146.8,2286.4 1147.3,2288.4 1147.7,2286.9 1148.2,2286.1 1148.7,2289.8 1149.2,2284.6 1149.6,2289.6 1150.1,2286.8 1150.6,2287.7 1151.1,2285.6 1151.5,2288.3 1152.0,2287.7 1152.5,2282.1 1152.9,2284.3 1153.4,2285.6 1153.9,2288.1 1154.4,2286.4 1154.8,2289.6 1155.3,2288.2 1155.8,2286.3 1156.3,2285.8 1156.7,2287.6 1157.2,2285.9 1157.7,2285.7 1158.1,2288.6 1158.6,2286.7 1159.1,2287.1 1159.6,2284.8 1160.0,2289.0 1160.5,2286.4 1161.0,2287.3 1161.5,2283.9 1161.9,2290.7 1162.4,2284.4 1162.9,2287.4 1163.3,2286.3 1163.8,2289.5 1164.3,2289.2 1164.8,2287.5 1165.2,2287.0 1165.7,2291.0 1166.2,2288.2 1166.7,2287.9 1167.1,2287.4 1167.6,2286.1 1168.1,2286.7 1168.5,2287.6 1169.0,2289.1 1169.5,2289.8 1170.0,2287.1 1170.4,2284.9 1170.9,2287.2 1171.4,2285.8 1171.8,2289.0 1172.3,2285.8 1172.8,2287.5 1173.3,2287.0 1173.7,2286.2 1174.2,2286.0 1174.7,2286.8 1175.2,2286.6 1175.6,2286.7 1176.1,2288.3 1176.6,2287.7 1177.0,2287.2 1177.5,2284.6 1178.0,2289.1 1178.5,2287.1 1178.9,2285.7 1179.4,2286.1 1179.9,2288.7 1180.4,2289.2 1180.8,2288.1 1181.3,2286.8 1181.8,2285.9 1182.2,2287.6 1182.7,2287.0 1183.2,2287.8 1183.7,2288.5 1184.1,2285.3 1184.6,2284.5 1185.1,2287.4 1185.6,2288.5 1186.0,2286.2 1186.5,2289.5 1187.0,2289.3 1187.4,2287.0 1187.9,2284.3 1188.4,2287.8 1188.9,2287.1 1189.3,2284.7 1189.8,2289.0 1190.3,2289.6 1190.8,2283.7 1191.2,2285.5 1191.7,2287.7 1192.2,2286.3 1192.6,2285.7 1193.1,2287.5 1193.6,2283.1 1194.1,2289.7 1194.5,2284.5 1195.0,2286.4 1195.5,2286.7 1196.0,2286.6 1196.4,2288.0 1196.9,2287.3 1197.4,2287.7 1197.8,2289.2 1198.3,2285.9 1198.8,2289.0 1199.3,2288.4 1199.7,2283.7 1200.2,2287.6 1200.7,2284.3 1201.2,2284.6 1201.6,2286.3 1202.1,2284.1 1202.6,2287.5 1203.0,2288.0 1203.5,2287.2 1204.0,2287.0 1204.5,2285.6 1204.9,2283.2 1205.4,2287.6 1205.9,2286.7 1206.4,2286.2 1206.8,2285.6 1207.3,2286.5 1207.8,2283.7 1208.2,2286.5 1208.7,2287.3 1209.2,2282.9 1209.7,2283.2 1210.1,2285.4 1210.6,2286.8 1211.1,2284.9 1211.6,2283.8 1212.0,2282.3 1212.5,2282.0 1213.0,2285.1 1213.4,2284.3 1213.9,2284.5 1214.4,2283.9 1214.9,2284.6 1215.3,2284.2 1215.8,2283.6 1216.3,2282.9 1216.8,2285.9 1217.2,2283.1 1217.7,2280.8 1218.2,2280.9 1218.6,2280.0 1219.1,2279.5 1219.6,2279.3 1220.1,2277.8 1220.5,2279.0 1221.0,2280.6 1221.5,2275.1 1222.0,2275.8 1222.4,2278.7 1222.9,2272.2 1223.4,2270.5 1223.8,2272.7 1224.3,2266.1 1224.8,2263.6 1225.3,2258.0 1225.7,2254.5 1226.2,2240.9 1226.7,2239.4 1227.2,2228.8 1227.6,2213.7 1228.1,2197.0 1228.6,2182.1 1229.0,2153.9 1229.5,2146.5 1230.0,2109.4 1230.5,2112.7 1230.9,2087.6 1231.4,2070.1 1231.9,2062.4 1232.4,2079.1 1232.8,2091.7 1233.3,2094.3 1233.8,2102.0 1234.2,2105.5 1234.7,2126.0 1235.2,2128.8 1235.7,2152.7 1236.1,2159.5 1236.6,2167.6 1237.1,2190.4 1237.6,2202.8 1238.0,2219.0 1238.5,2231.6 1239.0,2238.4 1239.4,2246.2 1239.9,2261.8 1240.4,2261.7 1240.9,2259.2 1241.3,2266.1 1241.8,2269.8 1242.3,2273.2 1242.7,2274.9 1243.2,2275.8 1243.7,2283.0 1244.2,2274.4 1244.6,2277.7 1245.1,2280.7 1245.6,2277.4 1246.1,2280.6 1246.5,2278.3 1247.0,2282.4 1247.5,2280.2 1247.9,2285.0 1248.4,2280.8 1248.9,2285.3 1249.4,2282.9 1249.8,2282.5 1250.3,2286.2 1250.8,2283.4 1251.3,2284.6 1251.7,2283.8 1252.2,2282.5 1252.7,2284.3 1253.1,2282.3 1253.6,2286.0 1254.1,2286.3 1254.6,2283.2 1255.0,2286.7 1255.5,2284.4 1256.0,2286.6 1256.5,2285.3 1256.9,2284.7 1257.4,2286.6 1257.9,2286.6 1258.3,2288.0 1258.8,2284.3 1259.3,2287.2 1259.8,2287.4 1260.2,2286.0 1260.7,2286.5 1261.2,2287.3 1261.7,2285.5 1262.1,2285.9 1262.6,2287.3 1263.1,2287.0 1263.5,2284.2 1264.0,2286.1 1264.5,2287.2 1265.0,2286.5 1265.4,2285.5 1265.9,2283.3 1266.4,2288.3 1266.9,2285.8 1267.3,2287.4 1267.8,2286.0 1268.3,2287.4 1268.7,2287.7 1269.2,2287.8 1269.7,2287.4 1270.2,2286.1 1270.6,2283.6 1271.1,2288.3 1271.6,2288.0 1272.1,2287.4 1272.5,2284.2 1273.0,2284.3 1273.5,2284.4 1273.9,2285.8 1274.4,2286.7 1274.9,2288.6 1275.4,2286.6 1275.8,2286.2 1276.3,2287.5 1276.8,2287.8 1277.3,2288.7 1277.7,2286.1 1278.2,2287.0 1278.7,2285.3 1279.1,2287.8 1279.6,2287.8 1280.1,2284.9 1280.6,2286.7 1281.0,2289.3 1281.5,2288.0 1282.0,2288.5 1282.5,2287.2 1282.9,2289.9 1283.4,2285.8 1283.9,2285.8 1284.3,2287.0 1284.8,2287.0 1285.3,2287.0 1285.8,2287.7 1286.2,2285.1 1286.7,2288.5 1287.2,2283.1 1287.7,2288.6 1288.1,2286.4 1288.6,2288.4 1289.1,2288.1 1289.5,2287.1 1290.0,2289.3 1290.5,2286.0 1291.0,2286.6 1291.4,2286.0 1291.9,2285.7 1292.4,2288.1 1292.9,2287.2 1293.3,2287.2 1293.8,2285.1 1294.3,2287.0 1294.7,2288.2 1295.2,2286.3 1295.7,2287.5 1296.2,2285.5 1296.6,2284.6 1297.1,2285.2 1297.6,2288.1 1298.1,2285.4 1298.5,2288.2 1299.0,2287.4 1299.5,2285.3 1299.9,2286.4 1300.4,2283.8 1300.9,2285.4 1301.4,2286.5 1301.8,2284.9 1302.3,2286.6 1302.8,2284.6 1303.3,2290.3 1303.7,2286.9 1304.2,2288.2 1304.7,2286.9 1305.1,2287.6 1305.6,2283.6 1306.1,2285.8 1306.6,2286.8 1307.0,2285.2 1307.5,2290.6 1308.0,2284.4 1308.5,2290.0 1308.9,2286.4 1309.4,2283.5 1309.9,2288.4 1310.3,2288.0 1310.8,2290.2 1311.3,2289.6 1311.8,2286.1 1312.2,2286.3 1312.7,2287.3 1313.2,2285.9 1313.6,2287.2 1314.1,2287.9 1314.6,2287.1 1315.1,2288.4 1315.5,2290.2 1316.0,2286.8 1316.5,2285.7 1317.0,2284.4 1317.4,2285.3 1317.9,2286.8 1318.4,2287.7 1318.8,2286.4 1319.3,2285.7 1319.8,2286.3 1320.3,2287.0 1320.7,2285.6 1321.2,2289.9 1321.7,2285.1 1322.2,2283.3 1322.6,2288.1 1323.1,2285.1 1323.6,2286.7 1324.0,2287.3 1324.5,2284.9 1325.0,2284.9 1325.5,2286.2 1325.9,2283.0 1326.4,2285.0 1326.9,2288.8 1327.4,2283.3 1327.8,2285.6 1328.3,2283.1 1328.8,2287.3 1329.2,2287.2 1329.7,2286.4 1330.2,2285.1 1330.7,2284.4 1331.1,2286.8 1331.6,2279.8 1332.1,2287.1 1332.6,2286.2 1333.0,2282.1 1333.5,2282.3 1334.0,2282.8 1334.4,2284.7 1334.9,2285.1 1335.4,2281.5 1335.9,2287.3 1336.3,2286.2 1336.8,2285.1 1337.3,2284.8 1337.8,2283.3 1338.2,2284.8 1338.7,2284.4 1339.2,2284.1 1339.6,2285.3 1340.1,2284.4 1340.6,2286.7 1341.1,2286.2 1341.5,2284.6 1342.0,2285.1 1342.5,2283.4 1343.0,2284.3 1343.4,2283.8 1343.9,2282.6 1344.4,2287.1 1344.8,2285.9 1345.3,2284.5 1345.8,2280.7 1346.3,2284.4 1346.7,2280.5 1347.2,2281.7 1347.7,2283.2 1348.2,2282.5 1348.6,2282.1 1349.1,2283.7 1349.6,2280.3 1350.0,2281.9 1350.5,2282.5 1351.0,2283.4 1351.5,2281.2 1351.9,2281.0 1352.4,2280.3 1352.9,2277.5 1353.4,2280.2 1353.8,2282.2 1354.3,2282.0 1354.8,2282.8 1355.2,2282.0 1355.7,2282.3 1356.2,2277.9 1356.7,2283.4 1357.1,2276.2 1357.6,2279.7 1358.1,2280.6 1358.6,2279.1 1359.0,2277.1 1359.5,2276.3 1360.0,2276.7 1360.4,2273.0 1360.9,2276.9 1361.4,2275.3 1361.9,2270.9 1362.3,2273.9 1362.8,2271.5 1363.3,2267.0 1363.8,2264.9 1364.2,2262.5 1364.7,2259.3 1365.2,2257.2 1365.6,2251.9 1366.1,2246.0 1366.6,2239.0 1367.1,2226.4 1367.5,2217.7 1368.0,2200.4 1368.5,2187.0 1369.0,2163.7 1369.4,2157.8 1369.9,2111.6 1370.4,2102.8 1370.8,2074.8 1371.3,2052.5 1371.8,2016.0 1372.3,2025.2 1372.7,2009.2 1373.2,2007.3 1373.7,1992.2 1374.2,2007.5 1374.6,2034.0 1375.1,2041.2 1375.6,2050.6 1376.0,2069.8 1376.5,2070.4 1377.0,2093.6 1377.5,2122.7 1377.9,2131.3 1378.4,2150.5 1378.9,2170.2 1379.4,2183.4 1379.8,2196.6 1380.3,2213.4 1380.8,2225.9 1381.2,2232.3 1381.7,2246.6 1382.2,2245.3 1382.7,2256.9 1383.1,2257.4 1383.6,2261.7 1384.1,2262.8 1384.5,2267.5 1385.0,2267.2 1385.5,2273.1 1386.0,2267.8 1386.4,2270.7 1386.9,2270.8 1387.4,2274.6 1387.9,2273.7 1388.3,2275.7 1388.8,2275.4 1389.3,2278.0 1389.7,2276.5 1390.2,2281.8 1390.7,2275.0 1391.2,2279.8 1391.6,2276.1 1392.1,2275.4 1392.6,2277.0 1393.1,2280.7 1393.5,2278.2 1394.0,2277.6 1394.5,2277.7 1394.9,2278.5 1395.4,2279.3 1395.9,2280.2 1396.4,2280.2 1396.8,2279.5 1397.3,2280.1 1397.8,2280.6 1398.3,2280.8 1398.7,2280.2 1399.2,2281.4 1399.7,2278.7 1400.1,2280.4 1400.6,2278.4 1401.1,2281.9 1401.6,2282.3 1402.0,2281.7 1402.5,2280.9 1403.0,2280.8 1403.5,2279.0 1403.9,2284.6 1404.4,2280.4 1404.9,2283.8 1405.3,2282.6 1405.8,2281.2 1406.3,2280.8 1406.8,2278.5 1407.2,2281.3 1407.7,2278.7 1408.2,2279.8 1408.7,2281.3 1409.1,2279.2 1409.6,2281.7 1410.1,2279.8 1410.5,2277.4 1411.0,2279.5 1411.5,2280.9 1412.0,2282.0 1412.4,2281.3 1412.9,2281.9 1413.4,2277.6 1413.9,2279.3 1414.3,2280.5 1414.8,2280.0 1415.3,2277.3 1415.7,2281.3 1416.2,2281.4 1416.7,2278.0 1417.2,2279.5 1417.6,2282.7 1418.1,2279.7 1418.6,2280.8 1419.1,2281.2 1419.5,2281.4 1420.0,2281.6 1420.5,2280.4 1420.9,2279.1 1421.4,2282.3 1421.9,2279.7 1422.4,2283.2 1422.8,2280.9 1423.3,2278.6 1423.8,2280.2 1424.3,2280.7 1424.7,2277.3 1425.2,2278.8 1425.7,2279.2 1426.1,2278.5 1426.6,2281.8 1427.1,2279.7 1427.6,2275.6 1428.0,2277.3 1428.5,2275.3 1429.0,2279.8 1429.5,2278.6 1429.9,2275.8 1430.4,2275.3 1430.9,2280.4 1431.3,2275.9 1431.8,2275.9 1432.3,2276.0 1432.8,2273.1 1433.2,2274.8 1433.7,2271.1 1434.2,2269.1 1434.7,2269.8 1435.1,2266.2 1435.6,2268.9 1436.1,2258.4 1436.5,2254.9 1437.0,2253.7 1437.5,2246.9 1438.0,2233.6 1438.4,2215.7 1438.9,2210.4 1439.4,2202.2 1439.9,2184.2 1440.3,2176.9 1440.8,2154.6 1441.3,2140.4 1441.7,2121.9 1442.2,2105.0 1442.7,2106.4 1443.2,2090.4 1443.6,2103.2 1444.1,2105.3 1444.6,2113.7 1445.1,2125.3 1445.5,2130.6 1446.0,2137.1 1446.5,2135.4 1446.9,2152.9 1447.4,2169.1 1447.9,2171.9 1448.4,2183.5 1448.8,2200.9 1449.3,2206.3 1449.8,2217.8 1450.3,2232.4 1450.7,2234.0 1451.2,2248.4 1451.7,2253.2 1452.1,2254.7 1452.6,2264.7 1453.1,2270.7 1453.6,2269.3 1454.0,2270.0 1454.5,2272.4 1455.0,2275.0 1455.4,2278.1 1455.9,2274.4 1456.4,2275.7 1456.9,2277.9 1457.3,2278.0 1457.8,2282.9 1458.3,2278.8 1458.8,2278.0 1459.2,2279.4 1459.7,2279.7 1460.2,2281.2 1460.6,2281.6 1461.1,2286.1 1461.6,2283.5 1462.1,2282.4 1462.5,2284.6 1463.0,2285.8 1463.5,2284.1 1464.0,2285.1 1464.4,2281.7 1464.9,2284.5 1465.4,2284.3 1465.8,2281.9 1466.3,2286.1 1466.8,2283.9 1467.3,2281.8 1467.7,2286.0 1468.2,2285.3 1468.7,2283.0 1469.2,2283.2 1469.6,2285.7 1470.1,2285.7 1470.6,2285.8 1471.0,2286.2 1471.5,2283.7 1472.0,2285.3 1472.5,2286.0 1472.9,2286.0 1473.4,2283.2 1473.9,2289.3 1474.4,2285.2 1474.8,2284.0 1475.3,2285.4 1475.8,2285.7 1476.2,2283.0 1476.7,2283.2 1477.2,2280.0 1477.7,2284.1 1478.1,2281.9 1478.6,2283.9 1479.1,2279.3 1479.6,2278.8 1480.0,2278.5 1480.5,2276.4 1481.0,2275.3 1481.4,2273.7 1481.9,2272.1 1482.4,2266.9 1482.9,2263.7 1483.3,2261.1 1483.8,2255.0 1484.3,2248.1 1484.8,2237.4 1485.2,2234.1 1485.7,2226.9 1486.2,2223.1 1486.6,2208.8 1487.1,2204.7 1487.6,2200.6 1488.1,2198.3 1488.5,2196.6 1489.0,2206.5 1489.5,2206.3 1490.0,2207.1 1490.4,2206.7 1490.9,2211.7 1491.4,2213.9 1491.8,2219.8 1492.3,2223.3 1492.8,2232.4 1493.3,2237.1 1493.7,2241.7 1494.2,2247.4 1494.7,2250.4 1495.2,2257.2 1495.6,2261.8 1496.1,2266.1 1496.6,2266.6 1497.0,2273.7 1497.5,2274.1 1498.0,2278.6 1498.5,2278.8 1498.9,2280.3 1499.4,2282.5 1499.9,2284.8 1500.4,2283.3 1500.8,2284.2 1501.3,2285.5 1501.8,2285.8 1502.2,2286.5 1502.7,2282.7 1503.2,2287.4 1503.7,2289.4 1504.1,2289.7 1504.6,2286.3 1505.1,2290.4 1505.6,2287.0 1506.0,2288.8 1506.5,2287.9 1507.0,2288.4 1507.4,2287.2 1507.9,2289.4 1508.4,2288.9 1508.9,2290.2 1509.3,2292.3 1509.8,2287.3 1510.3,2291.4 1510.8,2288.6 1511.2,2288.0 1511.7,2289.0 1512.2,2291.0 1512.6,2287.3 1513.1,2291.5 1513.6,2288.4 1514.1,2288.1 1514.5,2291.9 1515.0,2289.0 1515.5,2291.3 1516.0,2289.4 1516.4,2293.1 1516.9,2287.6 1517.4,2289.2 1517.8,2290.2 1518.3,2290.8 1518.8,2288.2 1519.3,2289.7 1519.7,2289.8 1520.2,2291.0 1520.7,2290.9 1521.2,2290.7 1521.6,2291.7 1522.1,2290.2 1522.6,2287.9 1523.0,2289.7 1523.5,2289.3 1524.0,2289.7 1524.5,2287.0 1524.9,2291.1 1525.4,2293.1 1525.9,2294.7 1526.3,2291.1 1526.8,2289.9 1527.3,2288.8 1527.8,2292.5 1528.2,2291.1 1528.7,2288.1 1529.2,2292.6 1529.7,2291.7 1530.1,2290.8 1530.6,2291.8 1531.1,2290.3 1531.5,2293.1 1532.0,2291.3 1532.5,2291.2 1533.0,2288.9 1533.4,2289.6 1533.9,2289.5 1534.4,2291.9 1534.9,2288.4 1535.3,2290.6 1535.8,2288.4 1536.3,2292.7 1536.7,2292.0 1537.2,2291.3 1537.7,2288.2 1538.2,2291.9 1538.6,2290.3 1539.1,2290.9 1539.6,2288.9 1540.1,2290.4 1540.5,2287.7 1541.0,2291.6 1541.5,2286.9 1541.9,2290.1 1542.4,2291.9 1542.9,2288.9 1543.4,2290.1 1543.8,2291.3 1544.3,2288.0 1544.8,2290.7 1545.3,2291.7 1545.7,2289.4 1546.2,2288.7 1546.7,2288.8 1547.1,2292.1 1547.6,2287.4 1548.1,2289.4 1548.6,2288.9 1549.0,2291.4 1549.5,2291.0 1550.0,2290.5 1550.5,2289.6 1550.9,2286.3 1551.4,2289.3 1551.9,2289.3 1552.3,2287.4 1552.8,2287.1 1553.3,2288.0 1553.8,2290.1 1554.2,2291.9 1554.7,2292.8 1555.2,2289.9 1555.7,2290.4 1556.1,2287.9 1556.6,2286.2 1557.1,2289.8 1557.5,2289.4 1558.0,2289.0 1558.5,2291.9 1559.0,2288.8 1559.4,2287.4 1559.9,2284.4 1560.4,2290.8 1560.9,2287.2 1561.3,2285.9 1561.8,2290.2 1562.3,2288.6 1562.7,2286.0 1563.2,2289.1 1563.7,2288.5 1564.2,2287.5 1564.6,2285.8 1565.1,2287.1 1565.6,2288.4 1566.1,2286.5 1566.5,2289.0 1567.0,2289.6 1567.5,2287.8 1567.9,2287.5 1568.4,2286.9 1568.9,2286.7 1569.4,2287.7 1569.8,2289.9 1570.3,2289.6 1570.8,2287.2 1571.3,2285.1 1571.7,2287.8 1572.2,2287.1 1572.7,2284.9 1573.1,2287.9 1573.6,2284.4 1574.1,2286.2 1574.6,2286.1 1575.0,2283.9 1575.5,2285.8 1576.0,2282.8 1576.5,2286.1 1576.9,2285.4 1577.4,2284.5 1577.9,2282.0 1578.3,2284.6 1578.8,2281.9 1579.3,2281.2 1579.8,2279.4 1580.2,2281.9 1580.7,2279.4 1581.2,2277.6 1581.7,2274.4 1582.1,2277.0 1582.6,2274.6 1583.1,2273.3 1583.5,2278.5 1584.0,2268.3 1584.5,2265.4 1585.0,2263.8 1585.4,2258.1 1585.9,2250.4 1586.4,2242.7 1586.9,2235.2 1587.3,2227.9 1587.8,2216.3 1588.3,2202.8 1588.7,2196.4 1589.2,2180.1 1589.7,2169.2 1590.2,2163.5 1590.6,2164.9 1591.1,2160.6 1591.6,2172.1 1592.1,2162.1 1592.5,2166.0 1593.0,2172.5 1593.5,2183.8 1593.9,2174.1 1594.4,2177.8 1594.9,2188.3 1595.4,2188.9 1595.8,2199.7 1596.3,2212.5 1596.8,2211.7 1597.2,2220.3 1597.7,2226.9 1598.2,2233.4 1598.7,2243.1 1599.1,2250.6 1599.6,2248.5 1600.1,2256.0 1600.6,2259.5 1601.0,2267.0 1601.5,2273.5 1602.0,2273.3 1602.4,2269.4 1602.9,2272.8 1603.4,2279.5 1603.9,2277.9 1604.3,2279.8 1604.8,2278.0 1605.3,2275.2 1605.8,2280.3 1606.2,2278.8 1606.7,2280.2 1607.2,2281.0 1607.6,2282.3 1608.1,2281.8 1608.6,2279.7 1609.1,2280.1 1609.5,2279.7 1610.0,2282.6 1610.5,2282.5 1611.0,2281.1 1611.4,2281.8 1611.9,2283.2 1612.4,2282.5 1612.8,2278.6 1613.3,2281.8 1613.8,2280.4 1614.3,2279.6 1614.7,2281.4 1615.2,2277.5 1615.7,2280.0 1616.2,2278.5 1616.6,2280.2 1617.1,2277.3 1617.6,2277.8 1618.0,2275.2 1618.5,2276.1 1619.0,2274.2 1619.5,2270.8 1619.9,2266.1 1620.4,2267.6 1620.9,2260.5 1621.4,2256.6 1621.8,2248.8 1622.3,2253.4 1622.8,2246.4 1623.2,2234.6 1623.7,2231.4 1624.2,2227.1 1624.7,2226.1 1625.1,2223.7 1625.6,2223.2 1626.1,2222.7 1626.6,2231.8 1627.0,2232.3 1627.5,2228.4 1628.0,2230.9 1628.4,2239.7 1628.9,2233.9 1629.4,2240.0 1629.9,2241.7 1630.3,2248.0 1630.8,2253.1 1631.3,2254.2 1631.8,2258.1 1632.2,2264.2 1632.7,2264.7 1633.2,2268.0 1633.6,2274.6 1634.1,2275.3 1634.6,2276.2 1635.1,2279.5 1635.5,2278.4 1636.0,2278.9 1636.5,2284.2 1637.0,2283.0 1637.4,2283.5 1637.9,2283.5 1638.4,2288.1 1638.8,2287.7 1639.3,2285.9 1639.8,2285.0 1640.3,2286.7 1640.7,2288.9 1641.2,2287.0 1641.7,2289.2 1642.2,2290.5 1642.6,2288.2 1643.1,2287.2 1643.6,2287.2 1644.0,2288.6 1644.5,2290.3 1645.0,2291.1 1645.5,2288.4 1645.9,2291.1 1646.4,2289.3 1646.9,2289.3 1647.4,2291.1 1647.8,2290.4 1648.3,2290.4 1648.8,2289.3 1649.2,2291.5 1649.7,2290.8 1650.2,2290.4 1650.7,2292.6 1651.1,2291.6 1651.6,2291.8 1652.1,2290.9 1652.6,2292.9 1653.0,2291.4 1653.5,2291.0 1654.0,2289.5 1654.4,2291.5 1654.9,2289.5 1655.4,2291.1 1655.9,2290.9 1656.3,2293.0 1656.8,2292.9 1657.3,2291.4 1657.8,2293.1 1658.2,2290.0 1658.7,2292.1 1659.2,2288.7 1659.6,2293.3 1660.1,2291.7 1660.6,2291.9 1661.1,2292.4 1661.5,2292.2 1662.0,2295.7 1662.5,2292.7 1663.0,2291.4 1663.4,2293.0 1663.9,2294.7 1664.4,2293.5 1664.8,2292.9 1665.3,2291.8 1665.8,2293.9 1666.3,2291.5 1666.7,2294.1 1667.2,2291.8 1667.7,2292.8 1668.1,2290.0 1668.6,2292.2 1669.1,2291.5 1669.6,2293.6 1670.0,2295.9 1670.5,2293.2 1671.0,2293.2 1671.5,2294.3 1671.9,2293.4 1672.4,2295.9 1672.9,2293.7 1673.3,2294.2 1673.8,2291.5 1674.3,2293.4 1674.8,2293.4 1675.2,2293.5 1675.7,2296.2 1676.2,2294.9 1676.7,2291.9 1677.1,2292.8 1677.6,2295.5 1678.1,2293.3 1678.5,2294.2 1679.0,2293.1 1679.5,2293.6 1680.0,2293.8 1680.4,2295.6 1680.9,2294.2 1681.4,2294.9 1681.9,2294.2 1682.3,2292.6 1682.8,2293.3 1683.3,2293.1 1683.7,2292.8 1684.2,2295.5 1684.7,2294.3 1685.2,2292.6 1685.6,2292.3 1686.1,2296.9 1686.6,2295.4 1687.1,2293.5 1687.5,2289.9 1688.0,2295.0 1688.5,2294.3 1688.9,2293.8 1689.4,2292.9 1689.9,2296.0 1690.4,2295.0 1690.8,2294.8 1691.3,2295.1 1691.8,2294.9 1692.3,2293.5 1692.7,2292.5 1693.2,2293.4 1693.7,2293.9 1694.1,2294.3 1694.6,2295.1 1695.1,2295.9 1695.6,2295.9 1696.0,2292.7 1696.5,2292.6 1697.0,2293.5 1697.5,2293.9 1697.9,2294.2 1698.4,2293.7 1698.9,2294.9 1699.3,2295.5 1699.8,2296.2 1700.3,2294.2 1700.8,2295.6 1701.2,2296.9 1701.7,2294.9 1702.2,2295.5 1702.7,2293.3 1703.1,2292.4 1703.6,2293.6 1704.1,2293.2 1704.5,2291.8 1705.0,2296.1 1705.5,2296.0 1706.0,2294.4 1706.4,2294.9 1706.9,2294.1 1707.4,2292.9 1707.9,2294.5 1708.3,2296.8 1708.8,2290.7 1709.3,2295.9 1709.7,2296.2 1710.2,2293.0 1710.7,2296.8 1711.2,2296.1 1711.6,2294.5 1712.1,2295.6 1712.6,2294.3 1713.1,2293.1 1713.5,2294.4 1714.0,2295.1 1714.5,2293.9 1714.9,2294.2 1715.4,2290.7 1715.9,2295.9 1716.4,2292.9 1716.8,2295.0 1717.3,2294.1 1717.8,2297.3 1718.3,2296.2 1718.7,2296.4 1719.2,2297.0 1719.7,2295.6 1720.1,2292.7 1720.6,2297.0 1721.1,2293.0 1721.6,2295.1 1722.0,2294.9 1722.5,2296.8 1723.0,2294.7 1723.5,2293.1 1723.9,2295.8 1724.4,2294.9 1724.9,2295.1 1725.3,2295.7 1725.8,2296.4 1726.3,2293.6 1726.8,2294.1 1727.2,2296.1 1727.7,2293.6 1728.2,2296.4 1728.7,2295.2 1729.1,2297.4 1729.6,2297.9 1730.1,2296.0 1730.5,2293.1 1731.0,2295.2 1731.5,2294.0 1732.0,2293.1 1732.4,2295.0 1732.9,2296.5 1733.4,2295.3 1733.9,2296.2 1734.3,2294.8 1734.8,2296.3 1735.3,2293.8 1735.7,2294.1 1736.2,2295.3 1736.7,2295.5 1737.2,2295.0 1737.6,2295.7 1738.1,2295.4 1738.6,2294.5 1739.0,2296.6 1739.5,2296.3 1740.0,2296.1 1740.5,2298.7 1740.9,2294.1 1741.4,2296.3 1741.9,2294.0 1742.4,2298.5 1742.8,2298.7 1743.3,2296.4 1743.8,2295.9 1744.2,2294.8 1744.7,2295.0 1745.2,2294.3 1745.7,2296.0 1746.1,2292.9 1746.6,2295.1 1747.1,2298.4 1747.6,2297.2 1748.0,2297.3 1748.5,2296.4 1749.0,2297.2 1749.4,2296.0 1749.9,2294.7 1750.4,2298.3 1750.9,2297.2 1751.3,2294.1 1751.8,2294.2 1752.3,2294.1 1752.8,2296.1 1753.2,2294.9 1753.7,2296.0 1754.2,2298.6 1754.6,2297.4 1755.1,2295.7 1755.6,2296.5 1756.1,2297.8 1756.5,2298.0 1757.0,2296.2 1757.5,2296.4 1758.0,2297.5 1758.4,2294.8 1758.9,2297.4 1759.4,2297.4 1759.8,2296.8 1760.3,2297.0 1760.8,2297.1 1761.3,2299.5 1761.7,2293.9 1762.2,2296.2 1762.7,2296.6 1763.2,2297.8 1763.6,2297.2 1764.1,2296.5 1764.6,2297.9 1765.0,2296.1 1765.5,2296.3 1766.0,2297.6 1766.5,2298.1 1766.9,2296.3 1767.4,2294.4 1767.9,2297.0 1768.4,2296.1 1768.8,2297.5 1769.3,2298.4 1769.8,2295.9 1770.2,2297.8 1770.7,2294.7 1771.2,2298.3 1771.7,2299.4 1772.1,2297.1 1772.6,2296.5 1773.1,2296.5 1773.6,2297.4 1774.0,2299.1 1774.5,2296.2" fill="none" stroke="#3DC21A" stroke-width="5" stroke-linejoin="round"/>
<g fill="#000"><text x="793.0" y="111.7" text-anchor="middle" font-family="Liberation Sans" font-size="67">&#x25CA;</text><text x="941.0" y="447.0" text-anchor="middle" font-family="Liberation Sans" font-size="67">&#x25CA;</text><text x="1422.0" y="816.1" text-anchor="middle" font-family="Liberation Sans" font-size="67">&#x25CA;</text><text x="1731.0" y="829.4" text-anchor="middle" font-family="Liberation Sans" font-size="67">&#x25CA;</text><text transform="translate(537.0,1254.1) scale(1.14,1)" x="0" y="0" text-anchor="middle" font-family="Noto Serif CJK SC" font-size="50.8">&#x2207;</text><text transform="translate(790.0,1542.4) scale(1.14,1)" x="0" y="0" text-anchor="middle" font-family="Noto Serif CJK SC" font-size="50.8">&#x2207;</text><text transform="translate(839.0,1763.6) scale(1.14,1)" x="0" y="0" text-anchor="middle" font-family="Noto Serif CJK SC" font-size="50.8">&#x2207;</text><text transform="translate(971.9,2167.1) scale(1.14,1)" x="0" y="0" text-anchor="middle" font-family="Noto Serif CJK SC" font-size="50.8">&#x2207;</text><text transform="translate(1059.0,1997.8) scale(1.14,1)" x="0" y="0" text-anchor="middle" font-family="Noto Serif CJK SC" font-size="50.8">&#x2207;</text><text transform="translate(1232.0,2066.9) scale(1.14,1)" x="0" y="0" text-anchor="middle" font-family="Noto Serif CJK SC" font-size="50.8">&#x2207;</text><text transform="translate(1372.4,1998.0) scale(1.14,1)" x="0" y="0" text-anchor="middle" font-family="Noto Serif CJK SC" font-size="50.8">&#x2207;</text><text transform="translate(1442.6,2099.0) scale(1.14,1)" x="0" y="0" text-anchor="middle" font-family="Noto Serif CJK SC" font-size="50.8">&#x2207;</text><text transform="translate(1487.8,2201.2) scale(1.14,1)" x="0" y="0" text-anchor="middle" font-family="Noto Serif CJK SC" font-size="50.8">&#x2207;</text><text transform="translate(1590.8,2158.3) scale(1.14,1)" x="0" y="0" text-anchor="middle" font-family="Noto Serif CJK SC" font-size="50.8">&#x2207;</text><text transform="translate(1624.9,2225.2) scale(1.14,1)" x="0" y="0" text-anchor="middle" font-family="Noto Serif CJK SC" font-size="50.8">&#x2207;</text><circle cx="701.5" cy="1080" r="9.7" fill="#000"/><circle cx="698" cy="2225" r="9.7" fill="#000"/><text x="472.7" y="2117" text-anchor="middle" font-family="Liberation Sans" font-size="62.5" transform="matrix(1 0 0 1.04 0 -84.68)">?</text><text x="635" y="2219.6" text-anchor="middle" font-family="Liberation Sans" font-size="62.5" transform="matrix(1 0 0 1.04 0 -88.78)">?</text></g>
<g font-family="Liberation Sans, Arial, sans-serif" font-size="62.5" fill="#000"><text x="803" y="158.5" letter-spacing="-0.41" transform="matrix(1 0 0 1.037 0 -5.86)"><tspan>AlH</tspan><tspan font-size="36" dy="23.0">3</tspan><tspan dy="-23.0"> + 10 wt% Nb</tspan><tspan font-size="36" dy="23.0">2</tspan><tspan dy="-23.0">C (decomposed)</tspan></text>
<text x="897" y="1308" letter-spacing="-0.29" transform="matrix(1 0 0 1.037 0 -48.40)"><tspan>AlH</tspan><tspan font-size="36" dy="23.0">3</tspan><tspan dy="-23.0"> + 10 wt% Nb</tspan><tspan font-size="36" dy="23.0">2</tspan><tspan dy="-23.0">C (as-milled)</tspan></text>
<text x="1128.2" y="598.3" text-anchor="middle" font-size="67">&#x25CA;</text>
<text x="1162" y="597.9" letter-spacing="-0.35" transform="matrix(1 0 0 1.037 0 -22.12)">Al (PDF No. 85-1327)</text>
<text x="1123.8" y="728.8" text-anchor="middle" font-size="73">&#x2022;</text>
<text x="1169.8" y="720.3" transform="matrix(1 0 0 1.037 0 -26.65)"><tspan>Nb</tspan><tspan font-size="36" dy="23.0">2</tspan><tspan dy="-23.0">C</tspan></text>
<text transform="translate(1068,1690.9) scale(1.14,1)" text-anchor="middle" font-family="Noto Serif CJK SC" font-size="50.8">&#x2207;</text>
<text x="1104.9" y="1690.9" letter-spacing="-0.32" transform="matrix(1 0 0 1.037 0 -62.56)"><tspan>AlH</tspan><tspan font-size="36" dy="23.0">3</tspan><tspan dy="-23.0"> (PDF No.71-2421)</tspan></text>
<text x="1048" y="1788.3" letter-spacing="-0.71" transform="matrix(1 0 0 1.037 0 -66.17)">? unkown phase</text>
<text x="844.5" y="2558" font-weight="bold" font-size="59" transform="matrix(1 0 0 1.037 0 -94.65)">2Theta (degree)</text>
<text transform="translate(68,1449) rotate(-90) scale(1,1.037)" font-weight="bold" font-size="63" letter-spacing="-0.6">Intensity (a.u.)</text></g>
</svg>
</body></html>
